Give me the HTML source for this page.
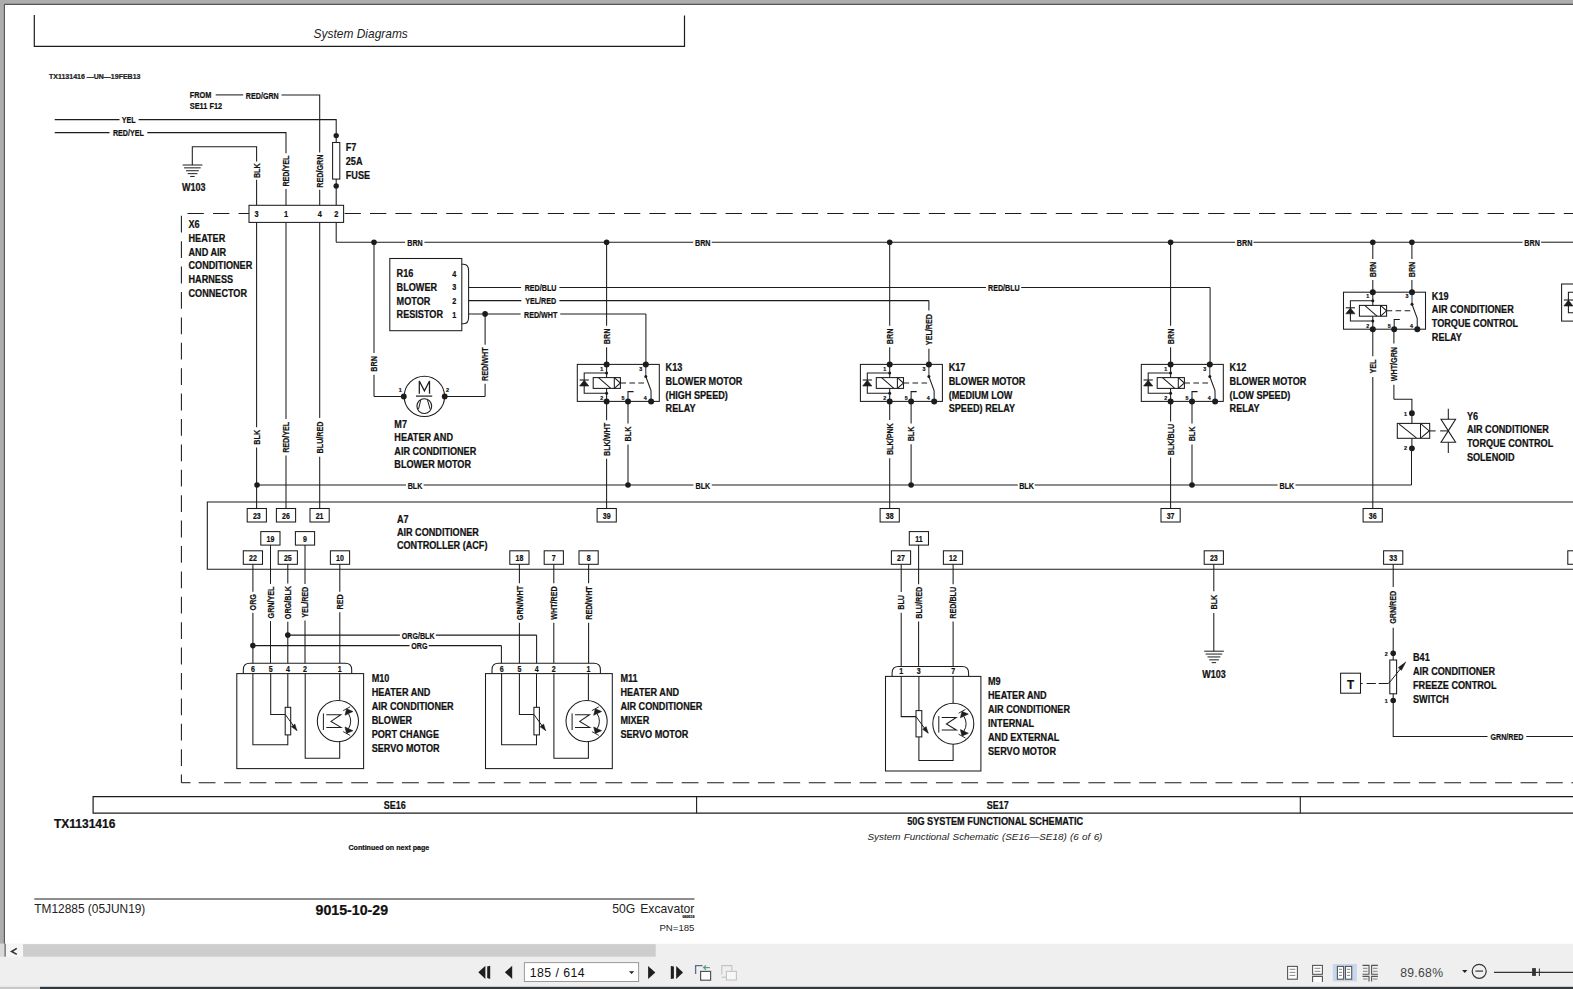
<!DOCTYPE html>
<html><head><meta charset="utf-8"><title>System Diagrams</title>
<style>
html,body{margin:0;padding:0;width:1573px;height:989px;overflow:hidden;background:#adadad;}
svg{position:absolute;left:0;top:0;display:block;}
text{font-family:"Liberation Sans",sans-serif;}
</style></head><body>
<svg width="1573" height="989" viewBox="0 0 1573 989" shape-rendering="geometricPrecision">
<rect x="0" y="0" width="1573" height="989" fill="#adadad"/>
<rect x="5" y="5" width="1568" height="939" fill="#ffffff"/>
<line x1="4.4" y1="4.4" x2="1573" y2="4.4" stroke="#555" stroke-width="1.1"/>
<line x1="4.4" y1="4.4" x2="4.4" y2="944" stroke="#555" stroke-width="1.1"/>
<polyline points="34.3,15 34.3,46.4 684.5,46.4 684.5,15.4" fill="none" stroke="#1c1c1c" stroke-width="1.2" stroke-linejoin="miter"/>
<text transform="translate(313.6,37.8) scale(1,1)" font-family="Liberation Sans" font-size="11.95" font-weight="normal" font-style="italic" text-anchor="start" fill="#222">System Diagrams</text>
<text transform="translate(49,79.2) scale(1,1)" font-family="Liberation Sans" font-size="7" font-weight="bold" font-style="normal" text-anchor="start" fill="#222" stroke="#222" stroke-width="0.22">TX1131416 —UN—19FEB13</text>
<text transform="translate(189.8,97.9) scale(0.8,1)" font-family="Liberation Sans" font-size="9.2" font-weight="bold" font-style="normal" text-anchor="start" fill="#111" stroke="#111" stroke-width="0.22">FROM</text>
<text transform="translate(189.8,108.9) scale(0.8,1)" font-family="Liberation Sans" font-size="9.2" font-weight="bold" font-style="normal" text-anchor="start" fill="#111" stroke="#111" stroke-width="0.22">SE11 F12</text>
<line x1="215.7" y1="94.9" x2="243.2" y2="94.9" stroke="#1c1c1c" stroke-width="1.05"/>
<text transform="translate(262.3,98.57) scale(0.73,1)" font-family="Liberation Sans" font-size="9.8" font-weight="bold" font-style="normal" text-anchor="middle" fill="#111" stroke="#111" stroke-width="0.22">RED/GRN</text>
<polyline points="281.5,94.9 319.7,94.9 319.7,152.5" fill="none" stroke="#1c1c1c" stroke-width="1.05" stroke-linejoin="miter"/>
<text transform="translate(322.98,171.1) rotate(-90) scale(0.8,1)" font-family="Liberation Sans" font-size="9" font-weight="bold" text-anchor="middle" fill="#111" stroke="#111" stroke-width="0.2">RED/GRN</text>
<line x1="319.7" y1="189.7" x2="319.7" y2="205.3" stroke="#1c1c1c" stroke-width="1.05"/>
<line x1="54.7" y1="119.6" x2="119.5" y2="119.6" stroke="#1c1c1c" stroke-width="1.05"/>
<text transform="translate(128.7,123.27) scale(0.73,1)" font-family="Liberation Sans" font-size="9.8" font-weight="bold" font-style="normal" text-anchor="middle" fill="#111" stroke="#111" stroke-width="0.22">YEL</text>
<polyline points="138.6,119.6 336.2,119.6 336.2,142.5" fill="none" stroke="#1c1c1c" stroke-width="1.05" stroke-linejoin="miter"/>
<circle cx="336.2" cy="135.6" r="2.7" fill="#1c1c1c"/>
<rect x="332.6" y="142.5" width="7.2" height="36.6" fill="none" stroke="#1c1c1c" stroke-width="1.05"/>
<line x1="336.2" y1="179.1" x2="336.2" y2="205.3" stroke="#1c1c1c" stroke-width="1.05"/>
<circle cx="336.2" cy="186" r="2.7" fill="#1c1c1c"/>
<text transform="translate(345.8,151.4) scale(0.86,1)" font-family="Liberation Sans" font-size="10.6" font-weight="bold" font-style="normal" text-anchor="start" fill="#111" stroke="#111" stroke-width="0.22">F7</text>
<text transform="translate(345.8,165.25) scale(0.86,1)" font-family="Liberation Sans" font-size="10.6" font-weight="bold" font-style="normal" text-anchor="start" fill="#111" stroke="#111" stroke-width="0.22">25A</text>
<text transform="translate(345.8,179.1) scale(0.86,1)" font-family="Liberation Sans" font-size="10.6" font-weight="bold" font-style="normal" text-anchor="start" fill="#111" stroke="#111" stroke-width="0.22">FUSE</text>
<line x1="54.7" y1="132.6" x2="109.5" y2="132.6" stroke="#1c1c1c" stroke-width="1.05"/>
<text transform="translate(128.4,136.27) scale(0.73,1)" font-family="Liberation Sans" font-size="9.8" font-weight="bold" font-style="normal" text-anchor="middle" fill="#111" stroke="#111" stroke-width="0.22">RED/YEL</text>
<polyline points="147.3,132.6 286,132.6 286,153.2" fill="none" stroke="#1c1c1c" stroke-width="1.05" stroke-linejoin="miter"/>
<text transform="translate(289.28,171.05) rotate(-90) scale(0.8,1)" font-family="Liberation Sans" font-size="9" font-weight="bold" text-anchor="middle" fill="#111" stroke="#111" stroke-width="0.2">RED/YEL</text>
<line x1="286" y1="188.9" x2="286" y2="205.3" stroke="#1c1c1c" stroke-width="1.05"/>
<polyline points="192.3,165 192.3,146.7 256.6,146.7 256.6,161.6" fill="none" stroke="#1c1c1c" stroke-width="1.05" stroke-linejoin="miter"/>
<text transform="translate(259.88,170.7) rotate(-90) scale(0.8,1)" font-family="Liberation Sans" font-size="9" font-weight="bold" text-anchor="middle" fill="#111" stroke="#111" stroke-width="0.2">BLK</text>
<line x1="256.6" y1="179.8" x2="256.6" y2="205.3" stroke="#1c1c1c" stroke-width="1.05"/>
<line x1="182.7" y1="165" x2="202.4" y2="165" stroke="#1c1c1c" stroke-width="1"/>
<line x1="184.1" y1="167.85" x2="200.7" y2="167.85" stroke="#1c1c1c" stroke-width="1"/>
<line x1="186" y1="170.75" x2="198.8" y2="170.75" stroke="#1c1c1c" stroke-width="1"/>
<line x1="187.7" y1="173.65" x2="197.4" y2="173.65" stroke="#1c1c1c" stroke-width="1"/>
<line x1="190.2" y1="176.45" x2="194.6" y2="176.45" stroke="#1c1c1c" stroke-width="1"/>
<text transform="translate(182,190.5) scale(0.88,1)" font-family="Liberation Sans" font-size="10.2" font-weight="bold" font-style="normal" text-anchor="start" fill="#111" stroke="#111" stroke-width="0.22">W103</text>
<rect x="249" y="205.3" width="94.6" height="17.1" fill="none" stroke="#1c1c1c" stroke-width="1.05"/>
<text transform="translate(256.6,217) scale(0.8,1)" font-family="Liberation Sans" font-size="9.2" font-weight="bold" font-style="normal" text-anchor="middle" fill="#111" stroke="#111" stroke-width="0.22">3</text>
<text transform="translate(286,217) scale(0.8,1)" font-family="Liberation Sans" font-size="9.2" font-weight="bold" font-style="normal" text-anchor="middle" fill="#111" stroke="#111" stroke-width="0.22">1</text>
<text transform="translate(319.7,217) scale(0.8,1)" font-family="Liberation Sans" font-size="9.2" font-weight="bold" font-style="normal" text-anchor="middle" fill="#111" stroke="#111" stroke-width="0.22">4</text>
<text transform="translate(336.2,217) scale(0.8,1)" font-family="Liberation Sans" font-size="9.2" font-weight="bold" font-style="normal" text-anchor="middle" fill="#111" stroke="#111" stroke-width="0.22">2</text>
<text transform="translate(188.5,228.3) scale(0.86,1)" font-family="Liberation Sans" font-size="10.6" font-weight="bold" font-style="normal" text-anchor="start" fill="#111" stroke="#111" stroke-width="0.22">X6</text>
<text transform="translate(188.5,241.94) scale(0.86,1)" font-family="Liberation Sans" font-size="10.6" font-weight="bold" font-style="normal" text-anchor="start" fill="#111" stroke="#111" stroke-width="0.22">HEATER</text>
<text transform="translate(188.5,255.58) scale(0.86,1)" font-family="Liberation Sans" font-size="10.6" font-weight="bold" font-style="normal" text-anchor="start" fill="#111" stroke="#111" stroke-width="0.22">AND AIR</text>
<text transform="translate(188.5,269.22) scale(0.86,1)" font-family="Liberation Sans" font-size="10.6" font-weight="bold" font-style="normal" text-anchor="start" fill="#111" stroke="#111" stroke-width="0.22">CONDITIONER</text>
<text transform="translate(188.5,282.86) scale(0.86,1)" font-family="Liberation Sans" font-size="10.6" font-weight="bold" font-style="normal" text-anchor="start" fill="#111" stroke="#111" stroke-width="0.22">HARNESS</text>
<text transform="translate(188.5,296.5) scale(0.86,1)" font-family="Liberation Sans" font-size="10.6" font-weight="bold" font-style="normal" text-anchor="start" fill="#111" stroke="#111" stroke-width="0.22">CONNECTOR</text>
<line x1="187.5" y1="213.4" x2="249" y2="213.4" stroke="#1c1c1c" stroke-width="1.05" stroke-dasharray="16.3 9.25"/>
<line x1="344.6" y1="213.4" x2="1573" y2="213.4" stroke="#1c1c1c" stroke-width="1.05" stroke-dasharray="16.3 9.1"/>
<line x1="181.4" y1="215.8" x2="181.4" y2="782.7" stroke="#1c1c1c" stroke-width="1.05" stroke-dasharray="16.8 8.6"/>
<line x1="181.4" y1="782.7" x2="190.5" y2="782.7" stroke="#1c1c1c" stroke-width="1.05"/>
<line x1="198.7" y1="782.7" x2="1573" y2="782.7" stroke="#1c1c1c" stroke-width="1.05" stroke-dasharray="16.8 8.62"/>
<line x1="336.2" y1="242.2" x2="405.1" y2="242.2" stroke="#1c1c1c" stroke-width="1.05"/>
<text transform="translate(415.05,245.87) scale(0.73,1)" font-family="Liberation Sans" font-size="9.8" font-weight="bold" font-style="normal" text-anchor="middle" fill="#111" stroke="#111" stroke-width="0.22">BRN</text>
<line x1="424.4" y1="242.2" x2="693.2" y2="242.2" stroke="#1c1c1c" stroke-width="1.05"/>
<text transform="translate(702.75,245.87) scale(0.73,1)" font-family="Liberation Sans" font-size="9.8" font-weight="bold" font-style="normal" text-anchor="middle" fill="#111" stroke="#111" stroke-width="0.22">BRN</text>
<line x1="711.7" y1="242.2" x2="1235.1" y2="242.2" stroke="#1c1c1c" stroke-width="1.05"/>
<text transform="translate(1244.6,245.87) scale(0.73,1)" font-family="Liberation Sans" font-size="9.8" font-weight="bold" font-style="normal" text-anchor="middle" fill="#111" stroke="#111" stroke-width="0.22">BRN</text>
<line x1="1253.5" y1="242.2" x2="1522.5" y2="242.2" stroke="#1c1c1c" stroke-width="1.05"/>
<text transform="translate(1532.1,245.87) scale(0.73,1)" font-family="Liberation Sans" font-size="9.8" font-weight="bold" font-style="normal" text-anchor="middle" fill="#111" stroke="#111" stroke-width="0.22">BRN</text>
<line x1="1541.1" y1="242.2" x2="1573" y2="242.2" stroke="#1c1c1c" stroke-width="1.05"/>
<line x1="336.2" y1="222.4" x2="336.2" y2="242.2" stroke="#1c1c1c" stroke-width="1.05"/>
<circle cx="374" cy="242.2" r="2.8" fill="#1c1c1c"/>
<circle cx="606.6" cy="242.2" r="2.8" fill="#1c1c1c"/>
<circle cx="889.7" cy="242.2" r="2.8" fill="#1c1c1c"/>
<circle cx="1170.6" cy="242.2" r="2.8" fill="#1c1c1c"/>
<circle cx="1372.8" cy="242.2" r="2.8" fill="#1c1c1c"/>
<circle cx="1411.9" cy="242.2" r="2.8" fill="#1c1c1c"/>
<line x1="374" y1="242.2" x2="374" y2="353.1" stroke="#1c1c1c" stroke-width="1.05"/>
<text transform="translate(377.28,363.9) rotate(-90) scale(0.8,1)" font-family="Liberation Sans" font-size="9" font-weight="bold" text-anchor="middle" fill="#111" stroke="#111" stroke-width="0.2">BRN</text>
<line x1="374" y1="374.7" x2="374" y2="396.5" stroke="#1c1c1c" stroke-width="1.05"/>
<line x1="374" y1="396.5" x2="403.8" y2="396.5" stroke="#1c1c1c" stroke-width="1.05"/>
<rect x="389.8" y="258.5" width="72" height="72.2" fill="none" stroke="#1c1c1c" stroke-width="1.05"/>
<text transform="translate(396.6,277.3) scale(0.86,1)" font-family="Liberation Sans" font-size="10.6" font-weight="bold" font-style="normal" text-anchor="start" fill="#111" stroke="#111" stroke-width="0.22">R16</text>
<text transform="translate(396.6,291.03) scale(0.86,1)" font-family="Liberation Sans" font-size="10.6" font-weight="bold" font-style="normal" text-anchor="start" fill="#111" stroke="#111" stroke-width="0.22">BLOWER</text>
<text transform="translate(396.6,304.76) scale(0.86,1)" font-family="Liberation Sans" font-size="10.6" font-weight="bold" font-style="normal" text-anchor="start" fill="#111" stroke="#111" stroke-width="0.22">MOTOR</text>
<text transform="translate(396.6,318.49) scale(0.86,1)" font-family="Liberation Sans" font-size="10.6" font-weight="bold" font-style="normal" text-anchor="start" fill="#111" stroke="#111" stroke-width="0.22">RESISTOR</text>
<text transform="translate(454.3,276.5) scale(0.88,1)" font-family="Liberation Sans" font-size="8.2" font-weight="bold" font-style="normal" text-anchor="middle" fill="#111" stroke="#111" stroke-width="0.22">4</text>
<text transform="translate(454.3,290.23) scale(0.88,1)" font-family="Liberation Sans" font-size="8.2" font-weight="bold" font-style="normal" text-anchor="middle" fill="#111" stroke="#111" stroke-width="0.22">3</text>
<text transform="translate(454.3,303.96) scale(0.88,1)" font-family="Liberation Sans" font-size="8.2" font-weight="bold" font-style="normal" text-anchor="middle" fill="#111" stroke="#111" stroke-width="0.22">2</text>
<text transform="translate(454.3,317.69) scale(0.88,1)" font-family="Liberation Sans" font-size="8.2" font-weight="bold" font-style="normal" text-anchor="middle" fill="#111" stroke="#111" stroke-width="0.22">1</text>
<path d="M461.8,264.3 L463.6,264.3 Q468.6,264.3 468.6,271 L468.6,317.3 Q468.6,323.8 463.6,323.8 L461.8,323.8" fill="none" stroke="#1c1c1c" stroke-width="1.05"/>
<line x1="468.6" y1="287.5" x2="521.1" y2="287.5" stroke="#1c1c1c" stroke-width="1.05"/>
<text transform="translate(540.55,291.17) scale(0.73,1)" font-family="Liberation Sans" font-size="9.8" font-weight="bold" font-style="normal" text-anchor="middle" fill="#111" stroke="#111" stroke-width="0.22">RED/BLU</text>
<line x1="559.4" y1="287.5" x2="985.9" y2="287.5" stroke="#1c1c1c" stroke-width="1.05"/>
<text transform="translate(1003.85,291.17) scale(0.73,1)" font-family="Liberation Sans" font-size="9.8" font-weight="bold" font-style="normal" text-anchor="middle" fill="#111" stroke="#111" stroke-width="0.22">RED/BLU</text>
<line x1="1021.2" y1="287.5" x2="1210.1" y2="287.5" stroke="#1c1c1c" stroke-width="1.05"/>
<line x1="1210.1" y1="287.5" x2="1210.1" y2="364.4" stroke="#1c1c1c" stroke-width="1.05"/>
<line x1="468.6" y1="300.6" x2="521.4" y2="300.6" stroke="#1c1c1c" stroke-width="1.05"/>
<text transform="translate(540.7,304.27) scale(0.73,1)" font-family="Liberation Sans" font-size="9.8" font-weight="bold" font-style="normal" text-anchor="middle" fill="#111" stroke="#111" stroke-width="0.22">YEL/RED</text>
<line x1="559.4" y1="300.6" x2="928.9" y2="300.6" stroke="#1c1c1c" stroke-width="1.05"/>
<line x1="928.9" y1="300.6" x2="928.9" y2="310.4" stroke="#1c1c1c" stroke-width="1.05"/>
<text transform="translate(932.18,329.6) rotate(-90) scale(0.8,1)" font-family="Liberation Sans" font-size="9" font-weight="bold" text-anchor="middle" fill="#111" stroke="#111" stroke-width="0.2">YEL/RED</text>
<line x1="928.9" y1="348.8" x2="928.9" y2="364.4" stroke="#1c1c1c" stroke-width="1.05"/>
<line x1="468.6" y1="313.9" x2="520.6" y2="313.9" stroke="#1c1c1c" stroke-width="1.05"/>
<text transform="translate(540.7,317.57) scale(0.73,1)" font-family="Liberation Sans" font-size="9.8" font-weight="bold" font-style="normal" text-anchor="middle" fill="#111" stroke="#111" stroke-width="0.22">RED/WHT</text>
<line x1="560.2" y1="313.9" x2="645.9" y2="313.9" stroke="#1c1c1c" stroke-width="1.05"/>
<line x1="645.9" y1="313.9" x2="645.9" y2="364.4" stroke="#1c1c1c" stroke-width="1.05"/>
<circle cx="485.1" cy="313.9" r="2.8" fill="#1c1c1c"/>
<line x1="485.1" y1="313.9" x2="485.1" y2="344.7" stroke="#1c1c1c" stroke-width="1.05"/>
<text transform="translate(488.38,364.2) rotate(-90) scale(0.8,1)" font-family="Liberation Sans" font-size="9" font-weight="bold" text-anchor="middle" fill="#111" stroke="#111" stroke-width="0.2">RED/WHT</text>
<line x1="485.1" y1="383.7" x2="485.1" y2="396.5" stroke="#1c1c1c" stroke-width="1.05"/>
<line x1="485.1" y1="396.5" x2="444.7" y2="396.5" stroke="#1c1c1c" stroke-width="1.05"/>
<circle cx="424.4" cy="396.4" r="20.2" fill="none" stroke="#1c1c1c" stroke-width="1.05"/>
<circle cx="403.8" cy="396.5" r="2.9" fill="#1c1c1c"/>
<circle cx="444.7" cy="396.5" r="2.9" fill="#1c1c1c"/>
<text transform="translate(400.2,391.9) scale(0.88,1)" font-family="Liberation Sans" font-size="6.2" font-weight="bold" font-style="normal" text-anchor="middle" fill="#111" stroke="#111" stroke-width="0.22">1</text>
<text transform="translate(447.6,391.9) scale(0.88,1)" font-family="Liberation Sans" font-size="6.2" font-weight="bold" font-style="normal" text-anchor="middle" fill="#111" stroke="#111" stroke-width="0.22">2</text>
<path d="M419.3,393.8 L419.3,381 L424.4,390.8 L429.5,381 L429.5,393.8" fill="none" stroke="#1c1c1c" stroke-width="1.25"/>
<line x1="416" y1="396.1" x2="432.2" y2="396.1" stroke="#1c1c1c" stroke-width="1.2"/>
<circle cx="424.3" cy="406.1" r="7.4" fill="none" stroke="#1c1c1c" stroke-width="1.1"/>
<line x1="420.7" y1="400.1" x2="418.5" y2="409.2" stroke="#1c1c1c" stroke-width="1"/>
<line x1="427.5" y1="400.1" x2="430.2" y2="409.4" stroke="#1c1c1c" stroke-width="1"/>
<text transform="translate(394.3,427.5) scale(0.86,1)" font-family="Liberation Sans" font-size="10.6" font-weight="bold" font-style="normal" text-anchor="start" fill="#111" stroke="#111" stroke-width="0.22">M7</text>
<text transform="translate(394.3,441.07) scale(0.86,1)" font-family="Liberation Sans" font-size="10.6" font-weight="bold" font-style="normal" text-anchor="start" fill="#111" stroke="#111" stroke-width="0.22">HEATER AND</text>
<text transform="translate(394.3,454.64) scale(0.86,1)" font-family="Liberation Sans" font-size="10.6" font-weight="bold" font-style="normal" text-anchor="start" fill="#111" stroke="#111" stroke-width="0.22">AIR CONDITIONER</text>
<text transform="translate(394.3,468.21) scale(0.86,1)" font-family="Liberation Sans" font-size="10.6" font-weight="bold" font-style="normal" text-anchor="start" fill="#111" stroke="#111" stroke-width="0.22">BLOWER MOTOR</text>
<rect x="577.3" y="364.4" width="82" height="37" fill="none" stroke="#1c1c1c" stroke-width="1.05"/>
<line x1="606.6" y1="364.4" x2="606.6" y2="377.6" stroke="#1c1c1c" stroke-width="1.05"/>
<line x1="606.6" y1="388.5" x2="606.6" y2="401.4" stroke="#1c1c1c" stroke-width="1.05"/>
<circle cx="606.6" cy="372.9" r="1.5" fill="#1c1c1c"/>
<circle cx="606.6" cy="393.2" r="1.5" fill="#1c1c1c"/>
<rect x="593.2" y="377.6" width="27.2" height="10.8" fill="none" stroke="#1c1c1c" stroke-width="1.05"/>
<line x1="614.3" y1="377.6" x2="614.3" y2="388.4" stroke="#1c1c1c" stroke-width="1.05"/>
<line x1="598.5" y1="377.6" x2="610.8" y2="388.4" stroke="#1c1c1c" stroke-width="1.05"/>
<polyline points="614.3,377.6 620.4,383 614.3,388.4" fill="none" stroke="#1c1c1c" stroke-width="1.05" stroke-linejoin="miter"/>
<polyline points="606.6,372.9 584.2,372.9 584.2,393.2 606.6,393.2" fill="none" stroke="#1c1c1c" stroke-width="1.05" stroke-linejoin="miter"/>
<polygon points="579.6,386 588.8,386 584.2,380.2" fill="#1c1c1c" stroke="#1c1c1c" stroke-width="0.6" stroke-linejoin="miter"/>
<line x1="579.6" y1="380" x2="588.8" y2="380" stroke="#1c1c1c" stroke-width="1.1"/>
<line x1="620.4" y1="383" x2="646" y2="383" stroke="#1c1c1c" stroke-width="1.05" stroke-dasharray="5.6 3.4"/>
<line x1="645.8" y1="364.4" x2="645.8" y2="376.5" stroke="#1c1c1c" stroke-width="0.9"/>
<circle cx="645.8" cy="376.5" r="1.5" fill="#1c1c1c"/>
<polyline points="645.8,376.5 651,390.5 651.1,401.4" fill="none" stroke="#1c1c1c" stroke-width="1.05" stroke-linejoin="miter"/>
<polyline points="628,401.4 628,391.6 633.6,391.6" fill="none" stroke="#1c1c1c" stroke-width="1.05" stroke-linejoin="miter"/>
<circle cx="606.6" cy="364.4" r="3" fill="#1c1c1c"/>
<circle cx="645.8" cy="364.4" r="3" fill="#1c1c1c"/>
<circle cx="606.6" cy="401.4" r="3" fill="#1c1c1c"/>
<circle cx="628" cy="401.4" r="3" fill="#1c1c1c"/>
<circle cx="651.1" cy="401.4" r="3" fill="#1c1c1c"/>
<text transform="translate(601.6,370.6) scale(0.88,1)" font-family="Liberation Sans" font-size="6" font-weight="bold" font-style="normal" text-anchor="middle" fill="#111" stroke="#111" stroke-width="0.22">1</text>
<text transform="translate(640.8,370.6) scale(0.88,1)" font-family="Liberation Sans" font-size="6" font-weight="bold" font-style="normal" text-anchor="middle" fill="#111" stroke="#111" stroke-width="0.22">3</text>
<text transform="translate(601.6,399.9) scale(0.88,1)" font-family="Liberation Sans" font-size="6" font-weight="bold" font-style="normal" text-anchor="middle" fill="#111" stroke="#111" stroke-width="0.22">2</text>
<text transform="translate(623,399.9) scale(0.88,1)" font-family="Liberation Sans" font-size="6" font-weight="bold" font-style="normal" text-anchor="middle" fill="#111" stroke="#111" stroke-width="0.22">5</text>
<text transform="translate(645.2,399.9) scale(0.88,1)" font-family="Liberation Sans" font-size="6" font-weight="bold" font-style="normal" text-anchor="middle" fill="#111" stroke="#111" stroke-width="0.22">4</text>
<text transform="translate(665.6,371.1) scale(0.86,1)" font-family="Liberation Sans" font-size="10.6" font-weight="bold" font-style="normal" text-anchor="start" fill="#111" stroke="#111" stroke-width="0.22">K13</text>
<text transform="translate(665.6,384.9) scale(0.86,1)" font-family="Liberation Sans" font-size="10.6" font-weight="bold" font-style="normal" text-anchor="start" fill="#111" stroke="#111" stroke-width="0.22">BLOWER MOTOR</text>
<text transform="translate(665.6,398.6) scale(0.86,1)" font-family="Liberation Sans" font-size="10.6" font-weight="bold" font-style="normal" text-anchor="start" fill="#111" stroke="#111" stroke-width="0.22">(HIGH SPEED)</text>
<text transform="translate(665.6,411.8) scale(0.86,1)" font-family="Liberation Sans" font-size="10.6" font-weight="bold" font-style="normal" text-anchor="start" fill="#111" stroke="#111" stroke-width="0.22">RELAY</text>
<rect x="860.4" y="364.4" width="82" height="37" fill="none" stroke="#1c1c1c" stroke-width="1.05"/>
<line x1="889.7" y1="364.4" x2="889.7" y2="377.6" stroke="#1c1c1c" stroke-width="1.05"/>
<line x1="889.7" y1="388.5" x2="889.7" y2="401.4" stroke="#1c1c1c" stroke-width="1.05"/>
<circle cx="889.7" cy="372.9" r="1.5" fill="#1c1c1c"/>
<circle cx="889.7" cy="393.2" r="1.5" fill="#1c1c1c"/>
<rect x="876.3" y="377.6" width="27.2" height="10.8" fill="none" stroke="#1c1c1c" stroke-width="1.05"/>
<line x1="897.4" y1="377.6" x2="897.4" y2="388.4" stroke="#1c1c1c" stroke-width="1.05"/>
<line x1="881.6" y1="377.6" x2="893.9" y2="388.4" stroke="#1c1c1c" stroke-width="1.05"/>
<polyline points="897.4,377.6 903.5,383 897.4,388.4" fill="none" stroke="#1c1c1c" stroke-width="1.05" stroke-linejoin="miter"/>
<polyline points="889.7,372.9 867.3,372.9 867.3,393.2 889.7,393.2" fill="none" stroke="#1c1c1c" stroke-width="1.05" stroke-linejoin="miter"/>
<polygon points="862.7,386 871.9,386 867.3,380.2" fill="#1c1c1c" stroke="#1c1c1c" stroke-width="0.6" stroke-linejoin="miter"/>
<line x1="862.7" y1="380" x2="871.9" y2="380" stroke="#1c1c1c" stroke-width="1.1"/>
<line x1="903.5" y1="383" x2="929.1" y2="383" stroke="#1c1c1c" stroke-width="1.05" stroke-dasharray="5.6 3.4"/>
<line x1="928.9" y1="364.4" x2="928.9" y2="376.5" stroke="#1c1c1c" stroke-width="0.9"/>
<circle cx="928.9" cy="376.5" r="1.5" fill="#1c1c1c"/>
<polyline points="928.9,376.5 934.1,390.5 934.2,401.4" fill="none" stroke="#1c1c1c" stroke-width="1.05" stroke-linejoin="miter"/>
<polyline points="911.1,401.4 911.1,391.6 916.7,391.6" fill="none" stroke="#1c1c1c" stroke-width="1.05" stroke-linejoin="miter"/>
<circle cx="889.7" cy="364.4" r="3" fill="#1c1c1c"/>
<circle cx="928.9" cy="364.4" r="3" fill="#1c1c1c"/>
<circle cx="889.7" cy="401.4" r="3" fill="#1c1c1c"/>
<circle cx="911.1" cy="401.4" r="3" fill="#1c1c1c"/>
<circle cx="934.2" cy="401.4" r="3" fill="#1c1c1c"/>
<text transform="translate(884.7,370.6) scale(0.88,1)" font-family="Liberation Sans" font-size="6" font-weight="bold" font-style="normal" text-anchor="middle" fill="#111" stroke="#111" stroke-width="0.22">1</text>
<text transform="translate(923.9,370.6) scale(0.88,1)" font-family="Liberation Sans" font-size="6" font-weight="bold" font-style="normal" text-anchor="middle" fill="#111" stroke="#111" stroke-width="0.22">3</text>
<text transform="translate(884.7,399.9) scale(0.88,1)" font-family="Liberation Sans" font-size="6" font-weight="bold" font-style="normal" text-anchor="middle" fill="#111" stroke="#111" stroke-width="0.22">2</text>
<text transform="translate(906.1,399.9) scale(0.88,1)" font-family="Liberation Sans" font-size="6" font-weight="bold" font-style="normal" text-anchor="middle" fill="#111" stroke="#111" stroke-width="0.22">5</text>
<text transform="translate(928.3,399.9) scale(0.88,1)" font-family="Liberation Sans" font-size="6" font-weight="bold" font-style="normal" text-anchor="middle" fill="#111" stroke="#111" stroke-width="0.22">4</text>
<text transform="translate(948.7,371.1) scale(0.86,1)" font-family="Liberation Sans" font-size="10.6" font-weight="bold" font-style="normal" text-anchor="start" fill="#111" stroke="#111" stroke-width="0.22">K17</text>
<text transform="translate(948.7,384.9) scale(0.86,1)" font-family="Liberation Sans" font-size="10.6" font-weight="bold" font-style="normal" text-anchor="start" fill="#111" stroke="#111" stroke-width="0.22">BLOWER MOTOR</text>
<text transform="translate(948.7,398.6) scale(0.86,1)" font-family="Liberation Sans" font-size="10.6" font-weight="bold" font-style="normal" text-anchor="start" fill="#111" stroke="#111" stroke-width="0.22">(MEDIUM LOW</text>
<text transform="translate(948.7,411.8) scale(0.86,1)" font-family="Liberation Sans" font-size="10.6" font-weight="bold" font-style="normal" text-anchor="start" fill="#111" stroke="#111" stroke-width="0.22">SPEED) RELAY</text>
<rect x="1141.3" y="364.4" width="82" height="37" fill="none" stroke="#1c1c1c" stroke-width="1.05"/>
<line x1="1170.6" y1="364.4" x2="1170.6" y2="377.6" stroke="#1c1c1c" stroke-width="1.05"/>
<line x1="1170.6" y1="388.5" x2="1170.6" y2="401.4" stroke="#1c1c1c" stroke-width="1.05"/>
<circle cx="1170.6" cy="372.9" r="1.5" fill="#1c1c1c"/>
<circle cx="1170.6" cy="393.2" r="1.5" fill="#1c1c1c"/>
<rect x="1157.2" y="377.6" width="27.2" height="10.8" fill="none" stroke="#1c1c1c" stroke-width="1.05"/>
<line x1="1178.3" y1="377.6" x2="1178.3" y2="388.4" stroke="#1c1c1c" stroke-width="1.05"/>
<line x1="1162.5" y1="377.6" x2="1174.8" y2="388.4" stroke="#1c1c1c" stroke-width="1.05"/>
<polyline points="1178.3,377.6 1184.4,383 1178.3,388.4" fill="none" stroke="#1c1c1c" stroke-width="1.05" stroke-linejoin="miter"/>
<polyline points="1170.6,372.9 1148.2,372.9 1148.2,393.2 1170.6,393.2" fill="none" stroke="#1c1c1c" stroke-width="1.05" stroke-linejoin="miter"/>
<polygon points="1143.6,386 1152.8,386 1148.2,380.2" fill="#1c1c1c" stroke="#1c1c1c" stroke-width="0.6" stroke-linejoin="miter"/>
<line x1="1143.6" y1="380" x2="1152.8" y2="380" stroke="#1c1c1c" stroke-width="1.1"/>
<line x1="1184.4" y1="383" x2="1210" y2="383" stroke="#1c1c1c" stroke-width="1.05" stroke-dasharray="5.6 3.4"/>
<line x1="1209.8" y1="364.4" x2="1209.8" y2="376.5" stroke="#1c1c1c" stroke-width="0.9"/>
<circle cx="1209.8" cy="376.5" r="1.5" fill="#1c1c1c"/>
<polyline points="1209.8,376.5 1215,390.5 1215.1,401.4" fill="none" stroke="#1c1c1c" stroke-width="1.05" stroke-linejoin="miter"/>
<polyline points="1192,401.4 1192,391.6 1197.6,391.6" fill="none" stroke="#1c1c1c" stroke-width="1.05" stroke-linejoin="miter"/>
<circle cx="1170.6" cy="364.4" r="3" fill="#1c1c1c"/>
<circle cx="1209.8" cy="364.4" r="3" fill="#1c1c1c"/>
<circle cx="1170.6" cy="401.4" r="3" fill="#1c1c1c"/>
<circle cx="1192" cy="401.4" r="3" fill="#1c1c1c"/>
<circle cx="1215.1" cy="401.4" r="3" fill="#1c1c1c"/>
<text transform="translate(1165.6,370.6) scale(0.88,1)" font-family="Liberation Sans" font-size="6" font-weight="bold" font-style="normal" text-anchor="middle" fill="#111" stroke="#111" stroke-width="0.22">1</text>
<text transform="translate(1204.8,370.6) scale(0.88,1)" font-family="Liberation Sans" font-size="6" font-weight="bold" font-style="normal" text-anchor="middle" fill="#111" stroke="#111" stroke-width="0.22">3</text>
<text transform="translate(1165.6,399.9) scale(0.88,1)" font-family="Liberation Sans" font-size="6" font-weight="bold" font-style="normal" text-anchor="middle" fill="#111" stroke="#111" stroke-width="0.22">2</text>
<text transform="translate(1187,399.9) scale(0.88,1)" font-family="Liberation Sans" font-size="6" font-weight="bold" font-style="normal" text-anchor="middle" fill="#111" stroke="#111" stroke-width="0.22">5</text>
<text transform="translate(1209.2,399.9) scale(0.88,1)" font-family="Liberation Sans" font-size="6" font-weight="bold" font-style="normal" text-anchor="middle" fill="#111" stroke="#111" stroke-width="0.22">4</text>
<text transform="translate(1229.6,371.1) scale(0.86,1)" font-family="Liberation Sans" font-size="10.6" font-weight="bold" font-style="normal" text-anchor="start" fill="#111" stroke="#111" stroke-width="0.22">K12</text>
<text transform="translate(1229.6,384.9) scale(0.86,1)" font-family="Liberation Sans" font-size="10.6" font-weight="bold" font-style="normal" text-anchor="start" fill="#111" stroke="#111" stroke-width="0.22">BLOWER MOTOR</text>
<text transform="translate(1229.6,398.6) scale(0.86,1)" font-family="Liberation Sans" font-size="10.6" font-weight="bold" font-style="normal" text-anchor="start" fill="#111" stroke="#111" stroke-width="0.22">(LOW SPEED)</text>
<text transform="translate(1229.6,411.8) scale(0.86,1)" font-family="Liberation Sans" font-size="10.6" font-weight="bold" font-style="normal" text-anchor="start" fill="#111" stroke="#111" stroke-width="0.22">RELAY</text>
<rect x="1343.5" y="292.2" width="82" height="37" fill="none" stroke="#1c1c1c" stroke-width="1.05"/>
<line x1="1372.8" y1="292.2" x2="1372.8" y2="305.4" stroke="#1c1c1c" stroke-width="1.05"/>
<line x1="1372.8" y1="316.3" x2="1372.8" y2="329.2" stroke="#1c1c1c" stroke-width="1.05"/>
<circle cx="1372.8" cy="300.7" r="1.5" fill="#1c1c1c"/>
<circle cx="1372.8" cy="321" r="1.5" fill="#1c1c1c"/>
<rect x="1359.4" y="305.4" width="27.2" height="10.8" fill="none" stroke="#1c1c1c" stroke-width="1.05"/>
<line x1="1380.5" y1="305.4" x2="1380.5" y2="316.2" stroke="#1c1c1c" stroke-width="1.05"/>
<line x1="1364.7" y1="305.4" x2="1377" y2="316.2" stroke="#1c1c1c" stroke-width="1.05"/>
<polyline points="1380.5,305.4 1386.6,310.8 1380.5,316.2" fill="none" stroke="#1c1c1c" stroke-width="1.05" stroke-linejoin="miter"/>
<polyline points="1372.8,300.7 1350.4,300.7 1350.4,321 1372.8,321" fill="none" stroke="#1c1c1c" stroke-width="1.05" stroke-linejoin="miter"/>
<polygon points="1345.8,313.8 1355,313.8 1350.4,308" fill="#1c1c1c" stroke="#1c1c1c" stroke-width="0.6" stroke-linejoin="miter"/>
<line x1="1345.8" y1="307.8" x2="1355" y2="307.8" stroke="#1c1c1c" stroke-width="1.1"/>
<line x1="1386.6" y1="310.8" x2="1412.2" y2="310.8" stroke="#1c1c1c" stroke-width="1.05" stroke-dasharray="5.6 3.4"/>
<line x1="1412" y1="292.2" x2="1412" y2="304.3" stroke="#1c1c1c" stroke-width="0.9"/>
<circle cx="1412" cy="304.3" r="1.5" fill="#1c1c1c"/>
<polyline points="1412,304.3 1417.2,318.3 1417.3,329.2" fill="none" stroke="#1c1c1c" stroke-width="1.05" stroke-linejoin="miter"/>
<polyline points="1394.2,329.2 1394.2,319.4 1399.8,319.4" fill="none" stroke="#1c1c1c" stroke-width="1.05" stroke-linejoin="miter"/>
<circle cx="1372.8" cy="292.2" r="3" fill="#1c1c1c"/>
<circle cx="1412" cy="292.2" r="3" fill="#1c1c1c"/>
<circle cx="1372.8" cy="329.2" r="3" fill="#1c1c1c"/>
<circle cx="1394.2" cy="329.2" r="3" fill="#1c1c1c"/>
<circle cx="1417.3" cy="329.2" r="3" fill="#1c1c1c"/>
<text transform="translate(1367.8,298.4) scale(0.88,1)" font-family="Liberation Sans" font-size="6" font-weight="bold" font-style="normal" text-anchor="middle" fill="#111" stroke="#111" stroke-width="0.22">1</text>
<text transform="translate(1407,298.4) scale(0.88,1)" font-family="Liberation Sans" font-size="6" font-weight="bold" font-style="normal" text-anchor="middle" fill="#111" stroke="#111" stroke-width="0.22">3</text>
<text transform="translate(1367.8,327.7) scale(0.88,1)" font-family="Liberation Sans" font-size="6" font-weight="bold" font-style="normal" text-anchor="middle" fill="#111" stroke="#111" stroke-width="0.22">2</text>
<text transform="translate(1389.2,327.7) scale(0.88,1)" font-family="Liberation Sans" font-size="6" font-weight="bold" font-style="normal" text-anchor="middle" fill="#111" stroke="#111" stroke-width="0.22">5</text>
<text transform="translate(1411.4,327.7) scale(0.88,1)" font-family="Liberation Sans" font-size="6" font-weight="bold" font-style="normal" text-anchor="middle" fill="#111" stroke="#111" stroke-width="0.22">4</text>
<text transform="translate(1431.8,299.7) scale(0.86,1)" font-family="Liberation Sans" font-size="10.6" font-weight="bold" font-style="normal" text-anchor="start" fill="#111" stroke="#111" stroke-width="0.22">K19</text>
<text transform="translate(1431.8,313.3) scale(0.86,1)" font-family="Liberation Sans" font-size="10.6" font-weight="bold" font-style="normal" text-anchor="start" fill="#111" stroke="#111" stroke-width="0.22">AIR CONDITIONER</text>
<text transform="translate(1431.8,327.1) scale(0.86,1)" font-family="Liberation Sans" font-size="10.6" font-weight="bold" font-style="normal" text-anchor="start" fill="#111" stroke="#111" stroke-width="0.22">TORQUE CONTROL</text>
<text transform="translate(1431.8,340.8) scale(0.86,1)" font-family="Liberation Sans" font-size="10.6" font-weight="bold" font-style="normal" text-anchor="start" fill="#111" stroke="#111" stroke-width="0.22">RELAY</text>
<line x1="606.6" y1="242.2" x2="606.6" y2="325.7" stroke="#1c1c1c" stroke-width="1.05"/>
<text transform="translate(609.88,336.45) rotate(-90) scale(0.8,1)" font-family="Liberation Sans" font-size="9" font-weight="bold" text-anchor="middle" fill="#111" stroke="#111" stroke-width="0.2">BRN</text>
<line x1="606.6" y1="347.2" x2="606.6" y2="364.4" stroke="#1c1c1c" stroke-width="1.05"/>
<line x1="889.7" y1="242.2" x2="889.7" y2="325.7" stroke="#1c1c1c" stroke-width="1.05"/>
<text transform="translate(892.98,336.45) rotate(-90) scale(0.8,1)" font-family="Liberation Sans" font-size="9" font-weight="bold" text-anchor="middle" fill="#111" stroke="#111" stroke-width="0.2">BRN</text>
<line x1="889.7" y1="347.2" x2="889.7" y2="364.4" stroke="#1c1c1c" stroke-width="1.05"/>
<line x1="1170.6" y1="242.2" x2="1170.6" y2="325.7" stroke="#1c1c1c" stroke-width="1.05"/>
<text transform="translate(1173.88,336.45) rotate(-90) scale(0.8,1)" font-family="Liberation Sans" font-size="9" font-weight="bold" text-anchor="middle" fill="#111" stroke="#111" stroke-width="0.2">BRN</text>
<line x1="1170.6" y1="347.2" x2="1170.6" y2="364.4" stroke="#1c1c1c" stroke-width="1.05"/>
<line x1="1372.8" y1="242.2" x2="1372.8" y2="259" stroke="#1c1c1c" stroke-width="1.05"/>
<text transform="translate(1376.08,269.5) rotate(-90) scale(0.8,1)" font-family="Liberation Sans" font-size="9" font-weight="bold" text-anchor="middle" fill="#111" stroke="#111" stroke-width="0.2">BRN</text>
<line x1="1372.8" y1="280" x2="1372.8" y2="292.2" stroke="#1c1c1c" stroke-width="1.05"/>
<line x1="1411.9" y1="242.2" x2="1411.9" y2="259" stroke="#1c1c1c" stroke-width="1.05"/>
<text transform="translate(1415.18,269.5) rotate(-90) scale(0.8,1)" font-family="Liberation Sans" font-size="9" font-weight="bold" text-anchor="middle" fill="#111" stroke="#111" stroke-width="0.2">BRN</text>
<line x1="1411.9" y1="280" x2="1411.9" y2="292.2" stroke="#1c1c1c" stroke-width="1.05"/>
<line x1="606.6" y1="401.4" x2="606.6" y2="420.2" stroke="#1c1c1c" stroke-width="1.05"/>
<text transform="translate(609.88,439.45) rotate(-90) scale(0.8,1)" font-family="Liberation Sans" font-size="9" font-weight="bold" text-anchor="middle" fill="#111" stroke="#111" stroke-width="0.2">BLK/WHT</text>
<line x1="606.6" y1="458.7" x2="606.6" y2="508.5" stroke="#1c1c1c" stroke-width="1.05"/>
<line x1="628" y1="401.4" x2="628" y2="423.5" stroke="#1c1c1c" stroke-width="1.05"/>
<text transform="translate(631.28,434.05) rotate(-90) scale(0.8,1)" font-family="Liberation Sans" font-size="9" font-weight="bold" text-anchor="middle" fill="#111" stroke="#111" stroke-width="0.2">BLK</text>
<line x1="628" y1="444.6" x2="628" y2="485" stroke="#1c1c1c" stroke-width="1.05"/>
<line x1="889.7" y1="401.4" x2="889.7" y2="420" stroke="#1c1c1c" stroke-width="1.05"/>
<text transform="translate(892.98,439.15) rotate(-90) scale(0.8,1)" font-family="Liberation Sans" font-size="9" font-weight="bold" text-anchor="middle" fill="#111" stroke="#111" stroke-width="0.2">BLK/PNK</text>
<line x1="889.7" y1="458.3" x2="889.7" y2="508.5" stroke="#1c1c1c" stroke-width="1.05"/>
<line x1="911.1" y1="401.4" x2="911.1" y2="423.6" stroke="#1c1c1c" stroke-width="1.05"/>
<text transform="translate(914.38,433.95) rotate(-90) scale(0.8,1)" font-family="Liberation Sans" font-size="9" font-weight="bold" text-anchor="middle" fill="#111" stroke="#111" stroke-width="0.2">BLK</text>
<line x1="911.1" y1="444.3" x2="911.1" y2="485" stroke="#1c1c1c" stroke-width="1.05"/>
<line x1="1170.6" y1="401.4" x2="1170.6" y2="421.4" stroke="#1c1c1c" stroke-width="1.05"/>
<text transform="translate(1173.88,439.45) rotate(-90) scale(0.8,1)" font-family="Liberation Sans" font-size="9" font-weight="bold" text-anchor="middle" fill="#111" stroke="#111" stroke-width="0.2">BLK/BLU</text>
<line x1="1170.6" y1="457.5" x2="1170.6" y2="508.5" stroke="#1c1c1c" stroke-width="1.05"/>
<line x1="1192" y1="401.4" x2="1192" y2="423.6" stroke="#1c1c1c" stroke-width="1.05"/>
<text transform="translate(1195.28,434) rotate(-90) scale(0.8,1)" font-family="Liberation Sans" font-size="9" font-weight="bold" text-anchor="middle" fill="#111" stroke="#111" stroke-width="0.2">BLK</text>
<line x1="1192" y1="444.4" x2="1192" y2="485" stroke="#1c1c1c" stroke-width="1.05"/>
<line x1="1372.8" y1="329.2" x2="1372.8" y2="356.3" stroke="#1c1c1c" stroke-width="1.05"/>
<text transform="translate(1376.08,366.6) rotate(-90) scale(0.8,1)" font-family="Liberation Sans" font-size="9" font-weight="bold" text-anchor="middle" fill="#111" stroke="#111" stroke-width="0.2">YEL</text>
<line x1="1372.8" y1="376.9" x2="1372.8" y2="508.5" stroke="#1c1c1c" stroke-width="1.05"/>
<line x1="1393.9" y1="329.2" x2="1393.9" y2="343.6" stroke="#1c1c1c" stroke-width="1.05"/>
<text transform="translate(1397.18,364.15) rotate(-90) scale(0.8,1)" font-family="Liberation Sans" font-size="9" font-weight="bold" text-anchor="middle" fill="#111" stroke="#111" stroke-width="0.2">WHT/GRN</text>
<line x1="1393.9" y1="384.7" x2="1393.9" y2="399.2" stroke="#1c1c1c" stroke-width="1.05"/>
<polyline points="1393.9,399.2 1411.9,399.2 1411.9,413.2" fill="none" stroke="#1c1c1c" stroke-width="1.05" stroke-linejoin="miter"/>
<line x1="257" y1="485" x2="405.9" y2="485" stroke="#1c1c1c" stroke-width="1.05"/>
<text transform="translate(415.05,488.67) scale(0.73,1)" font-family="Liberation Sans" font-size="9.8" font-weight="bold" font-style="normal" text-anchor="middle" fill="#111" stroke="#111" stroke-width="0.22">BLK</text>
<line x1="423.6" y1="485" x2="693.4" y2="485" stroke="#1c1c1c" stroke-width="1.05"/>
<text transform="translate(702.85,488.67) scale(0.73,1)" font-family="Liberation Sans" font-size="9.8" font-weight="bold" font-style="normal" text-anchor="middle" fill="#111" stroke="#111" stroke-width="0.22">BLK</text>
<line x1="711.7" y1="485" x2="1017.8" y2="485" stroke="#1c1c1c" stroke-width="1.05"/>
<text transform="translate(1026.55,488.67) scale(0.73,1)" font-family="Liberation Sans" font-size="9.8" font-weight="bold" font-style="normal" text-anchor="middle" fill="#111" stroke="#111" stroke-width="0.22">BLK</text>
<line x1="1034.7" y1="485" x2="1277.6" y2="485" stroke="#1c1c1c" stroke-width="1.05"/>
<text transform="translate(1286.85,488.67) scale(0.73,1)" font-family="Liberation Sans" font-size="9.8" font-weight="bold" font-style="normal" text-anchor="middle" fill="#111" stroke="#111" stroke-width="0.22">BLK</text>
<line x1="1295.5" y1="485" x2="1411.5" y2="485" stroke="#1c1c1c" stroke-width="1.05"/>
<line x1="1411.5" y1="485" x2="1411.5" y2="448.3" stroke="#1c1c1c" stroke-width="1.05"/>
<line x1="256.6" y1="222.4" x2="256.6" y2="427.2" stroke="#1c1c1c" stroke-width="1.05"/>
<text transform="translate(259.88,437.3) rotate(-90) scale(0.8,1)" font-family="Liberation Sans" font-size="9" font-weight="bold" text-anchor="middle" fill="#111" stroke="#111" stroke-width="0.2">BLK</text>
<line x1="256.6" y1="447.4" x2="256.6" y2="508.5" stroke="#1c1c1c" stroke-width="1.05"/>
<line x1="286" y1="222.4" x2="286" y2="419" stroke="#1c1c1c" stroke-width="1.05"/>
<text transform="translate(289.28,437.3) rotate(-90) scale(0.8,1)" font-family="Liberation Sans" font-size="9" font-weight="bold" text-anchor="middle" fill="#111" stroke="#111" stroke-width="0.2">RED/YEL</text>
<line x1="286" y1="455.6" x2="286" y2="508.5" stroke="#1c1c1c" stroke-width="1.05"/>
<line x1="319.7" y1="222.4" x2="319.7" y2="418.1" stroke="#1c1c1c" stroke-width="1.05"/>
<text transform="translate(322.98,437.45) rotate(-90) scale(0.8,1)" font-family="Liberation Sans" font-size="9" font-weight="bold" text-anchor="middle" fill="#111" stroke="#111" stroke-width="0.2">BLU/RED</text>
<line x1="319.7" y1="456.8" x2="319.7" y2="508.5" stroke="#1c1c1c" stroke-width="1.05"/>
<circle cx="257" cy="485" r="2.8" fill="#1c1c1c"/>
<circle cx="628" cy="485" r="2.8" fill="#1c1c1c"/>
<circle cx="911.1" cy="485" r="2.8" fill="#1c1c1c"/>
<circle cx="1192" cy="485" r="2.8" fill="#1c1c1c"/>
<rect x="1561.6" y="284" width="18.4" height="37.1" fill="none" stroke="#1c1c1c" stroke-width="1.05"/>
<polyline points="1580,292.3 1568.4,292.3 1568.4,312.8 1580,312.8" fill="none" stroke="#1c1c1c" stroke-width="1.05" stroke-linejoin="miter"/>
<polygon points="1563.9,306 1573,306 1568.4,300.2" fill="#1c1c1c" stroke="#1c1c1c" stroke-width="0.6" stroke-linejoin="miter"/>
<line x1="1563.9" y1="300" x2="1573" y2="300" stroke="#1c1c1c" stroke-width="1.1"/>
<line x1="1411.9" y1="413.2" x2="1411.9" y2="423.4" stroke="#1c1c1c" stroke-width="1.05"/>
<line x1="1411.9" y1="438.3" x2="1411.9" y2="448.3" stroke="#1c1c1c" stroke-width="1.05"/>
<circle cx="1411.9" cy="413.2" r="2.9" fill="#1c1c1c"/>
<circle cx="1411.9" cy="448.3" r="2.9" fill="#1c1c1c"/>
<rect x="1397.3" y="423.4" width="32.4" height="14.9" fill="none" stroke="#1c1c1c" stroke-width="1.05"/>
<line x1="1420.5" y1="423.4" x2="1420.5" y2="438.3" stroke="#1c1c1c" stroke-width="1.05"/>
<line x1="1399.2" y1="424.2" x2="1416.4" y2="437.8" stroke="#1c1c1c" stroke-width="1.05"/>
<polyline points="1421.2,424.2 1429.2,430.9 1421.2,437.6" fill="none" stroke="#1c1c1c" stroke-width="1.05" stroke-linejoin="miter"/>
<line x1="1429.7" y1="430.9" x2="1435.6" y2="430.9" stroke="#1c1c1c" stroke-width="1.05"/>
<line x1="1440.1" y1="430.9" x2="1448.3" y2="430.9" stroke="#1c1c1c" stroke-width="1.05"/>
<polygon points="1441,419.2 1455.6,419.2 1448.3,430.9 1441,442.3 1455.6,442.3 1448.3,430.9" fill="none" stroke="#1c1c1c" stroke-width="1.05" stroke-linejoin="miter"/>
<line x1="1448.3" y1="408.8" x2="1448.3" y2="419.2" stroke="#1c1c1c" stroke-width="1.05"/>
<line x1="1448.3" y1="442.3" x2="1448.3" y2="452.9" stroke="#1c1c1c" stroke-width="1.05"/>
<text transform="translate(1405.5,415.9) scale(0.88,1)" font-family="Liberation Sans" font-size="6.2" font-weight="bold" font-style="normal" text-anchor="middle" fill="#111" stroke="#111" stroke-width="0.22">1</text>
<text transform="translate(1405.5,450.3) scale(0.88,1)" font-family="Liberation Sans" font-size="6.2" font-weight="bold" font-style="normal" text-anchor="middle" fill="#111" stroke="#111" stroke-width="0.22">2</text>
<text transform="translate(1466.9,419.6) scale(0.86,1)" font-family="Liberation Sans" font-size="10.6" font-weight="bold" font-style="normal" text-anchor="start" fill="#111" stroke="#111" stroke-width="0.22">Y6</text>
<text transform="translate(1466.9,433.4) scale(0.86,1)" font-family="Liberation Sans" font-size="10.6" font-weight="bold" font-style="normal" text-anchor="start" fill="#111" stroke="#111" stroke-width="0.22">AIR CONDITIONER</text>
<text transform="translate(1466.9,447.2) scale(0.86,1)" font-family="Liberation Sans" font-size="10.6" font-weight="bold" font-style="normal" text-anchor="start" fill="#111" stroke="#111" stroke-width="0.22">TORQUE CONTROL</text>
<text transform="translate(1466.9,461) scale(0.86,1)" font-family="Liberation Sans" font-size="10.6" font-weight="bold" font-style="normal" text-anchor="start" fill="#111" stroke="#111" stroke-width="0.22">SOLENOID</text>
<polyline points="1575,502 207.3,502 207.3,569.2 1575,569.2" fill="none" stroke="#1c1c1c" stroke-width="1.1"/>
<text transform="translate(396.9,522.7) scale(0.86,1)" font-family="Liberation Sans" font-size="10.6" font-weight="bold" font-style="normal" text-anchor="start" fill="#111" stroke="#111" stroke-width="0.22">A7</text>
<text transform="translate(396.9,535.8) scale(0.86,1)" font-family="Liberation Sans" font-size="10.6" font-weight="bold" font-style="normal" text-anchor="start" fill="#111" stroke="#111" stroke-width="0.22">AIR CONDITIONER</text>
<text transform="translate(396.9,548.9) scale(0.86,1)" font-family="Liberation Sans" font-size="10.6" font-weight="bold" font-style="normal" text-anchor="start" fill="#111" stroke="#111" stroke-width="0.22">CONTROLLER (ACF)</text>
<rect x="247.2" y="508.5" width="19.2" height="13.5" fill="none" stroke="#1c1c1c" stroke-width="1.05"/>
<text transform="translate(256.8,519) scale(0.8,1)" font-family="Liberation Sans" font-size="8.8" font-weight="bold" font-style="normal" text-anchor="middle" fill="#111" stroke="#111" stroke-width="0.22">23</text>
<rect x="276.4" y="508.5" width="19.2" height="13.5" fill="none" stroke="#1c1c1c" stroke-width="1.05"/>
<text transform="translate(286,519) scale(0.8,1)" font-family="Liberation Sans" font-size="8.8" font-weight="bold" font-style="normal" text-anchor="middle" fill="#111" stroke="#111" stroke-width="0.22">26</text>
<rect x="310" y="508.5" width="19.2" height="13.5" fill="none" stroke="#1c1c1c" stroke-width="1.05"/>
<text transform="translate(319.6,519) scale(0.8,1)" font-family="Liberation Sans" font-size="8.8" font-weight="bold" font-style="normal" text-anchor="middle" fill="#111" stroke="#111" stroke-width="0.22">21</text>
<rect x="597.1" y="508.5" width="19.2" height="13.5" fill="none" stroke="#1c1c1c" stroke-width="1.05"/>
<text transform="translate(606.7,519) scale(0.8,1)" font-family="Liberation Sans" font-size="8.8" font-weight="bold" font-style="normal" text-anchor="middle" fill="#111" stroke="#111" stroke-width="0.22">39</text>
<rect x="880.1" y="508.5" width="19.2" height="13.5" fill="none" stroke="#1c1c1c" stroke-width="1.05"/>
<text transform="translate(889.7,519) scale(0.8,1)" font-family="Liberation Sans" font-size="8.8" font-weight="bold" font-style="normal" text-anchor="middle" fill="#111" stroke="#111" stroke-width="0.22">38</text>
<rect x="1161" y="508.5" width="19.2" height="13.5" fill="none" stroke="#1c1c1c" stroke-width="1.05"/>
<text transform="translate(1170.6,519) scale(0.8,1)" font-family="Liberation Sans" font-size="8.8" font-weight="bold" font-style="normal" text-anchor="middle" fill="#111" stroke="#111" stroke-width="0.22">37</text>
<rect x="1363.1" y="508.5" width="19.2" height="13.5" fill="none" stroke="#1c1c1c" stroke-width="1.05"/>
<text transform="translate(1372.7,519) scale(0.8,1)" font-family="Liberation Sans" font-size="8.8" font-weight="bold" font-style="normal" text-anchor="middle" fill="#111" stroke="#111" stroke-width="0.22">36</text>
<rect x="260.8" y="531.6" width="19.2" height="13.5" fill="none" stroke="#1c1c1c" stroke-width="1.05"/>
<text transform="translate(270.4,542.1) scale(0.8,1)" font-family="Liberation Sans" font-size="8.8" font-weight="bold" font-style="normal" text-anchor="middle" fill="#111" stroke="#111" stroke-width="0.22">19</text>
<rect x="295.4" y="531.6" width="19.2" height="13.5" fill="none" stroke="#1c1c1c" stroke-width="1.05"/>
<text transform="translate(305,542.1) scale(0.8,1)" font-family="Liberation Sans" font-size="8.8" font-weight="bold" font-style="normal" text-anchor="middle" fill="#111" stroke="#111" stroke-width="0.22">9</text>
<rect x="909.3" y="531.6" width="19.2" height="13.5" fill="none" stroke="#1c1c1c" stroke-width="1.05"/>
<text transform="translate(918.9,542.1) scale(0.8,1)" font-family="Liberation Sans" font-size="8.8" font-weight="bold" font-style="normal" text-anchor="middle" fill="#111" stroke="#111" stroke-width="0.22">11</text>
<rect x="243.3" y="550.8" width="19.2" height="13.5" fill="none" stroke="#1c1c1c" stroke-width="1.05"/>
<text transform="translate(252.9,561.3) scale(0.8,1)" font-family="Liberation Sans" font-size="8.8" font-weight="bold" font-style="normal" text-anchor="middle" fill="#111" stroke="#111" stroke-width="0.22">22</text>
<rect x="278.2" y="550.8" width="19.2" height="13.5" fill="none" stroke="#1c1c1c" stroke-width="1.05"/>
<text transform="translate(287.8,561.3) scale(0.8,1)" font-family="Liberation Sans" font-size="8.8" font-weight="bold" font-style="normal" text-anchor="middle" fill="#111" stroke="#111" stroke-width="0.22">25</text>
<rect x="330.4" y="550.8" width="19.2" height="13.5" fill="none" stroke="#1c1c1c" stroke-width="1.05"/>
<text transform="translate(340,561.3) scale(0.8,1)" font-family="Liberation Sans" font-size="8.8" font-weight="bold" font-style="normal" text-anchor="middle" fill="#111" stroke="#111" stroke-width="0.22">10</text>
<rect x="509.8" y="550.8" width="19.2" height="13.5" fill="none" stroke="#1c1c1c" stroke-width="1.05"/>
<text transform="translate(519.4,561.3) scale(0.8,1)" font-family="Liberation Sans" font-size="8.8" font-weight="bold" font-style="normal" text-anchor="middle" fill="#111" stroke="#111" stroke-width="0.22">18</text>
<rect x="544.2" y="550.8" width="19.2" height="13.5" fill="none" stroke="#1c1c1c" stroke-width="1.05"/>
<text transform="translate(553.8,561.3) scale(0.8,1)" font-family="Liberation Sans" font-size="8.8" font-weight="bold" font-style="normal" text-anchor="middle" fill="#111" stroke="#111" stroke-width="0.22">7</text>
<rect x="579" y="550.8" width="19.2" height="13.5" fill="none" stroke="#1c1c1c" stroke-width="1.05"/>
<text transform="translate(588.6,561.3) scale(0.8,1)" font-family="Liberation Sans" font-size="8.8" font-weight="bold" font-style="normal" text-anchor="middle" fill="#111" stroke="#111" stroke-width="0.22">8</text>
<rect x="891.4" y="550.8" width="19.2" height="13.5" fill="none" stroke="#1c1c1c" stroke-width="1.05"/>
<text transform="translate(901,561.3) scale(0.8,1)" font-family="Liberation Sans" font-size="8.8" font-weight="bold" font-style="normal" text-anchor="middle" fill="#111" stroke="#111" stroke-width="0.22">27</text>
<rect x="943.4" y="550.8" width="19.2" height="13.5" fill="none" stroke="#1c1c1c" stroke-width="1.05"/>
<text transform="translate(953,561.3) scale(0.8,1)" font-family="Liberation Sans" font-size="8.8" font-weight="bold" font-style="normal" text-anchor="middle" fill="#111" stroke="#111" stroke-width="0.22">12</text>
<rect x="1204.2" y="550.8" width="19.2" height="13.5" fill="none" stroke="#1c1c1c" stroke-width="1.05"/>
<text transform="translate(1213.8,561.3) scale(0.8,1)" font-family="Liberation Sans" font-size="8.8" font-weight="bold" font-style="normal" text-anchor="middle" fill="#111" stroke="#111" stroke-width="0.22">23</text>
<rect x="1383.6" y="550.8" width="19.2" height="13.5" fill="none" stroke="#1c1c1c" stroke-width="1.05"/>
<text transform="translate(1393.2,561.3) scale(0.8,1)" font-family="Liberation Sans" font-size="8.8" font-weight="bold" font-style="normal" text-anchor="middle" fill="#111" stroke="#111" stroke-width="0.22">33</text>
<rect x="1567.8" y="550.8" width="22.2" height="13.5" fill="none" stroke="#1c1c1c" stroke-width="1.05"/>
<line x1="252.9" y1="564.3" x2="252.9" y2="591.7" stroke="#1c1c1c" stroke-width="1.05"/>
<text transform="translate(256.18,602.25) rotate(-90) scale(0.8,1)" font-family="Liberation Sans" font-size="9" font-weight="bold" text-anchor="middle" fill="#111" stroke="#111" stroke-width="0.2">ORG</text>
<line x1="252.9" y1="612.8" x2="252.9" y2="663.3" stroke="#1c1c1c" stroke-width="1.05"/>
<line x1="270.5" y1="545.1" x2="270.5" y2="583.9" stroke="#1c1c1c" stroke-width="1.05"/>
<text transform="translate(273.78,602.5) rotate(-90) scale(0.8,1)" font-family="Liberation Sans" font-size="9" font-weight="bold" text-anchor="middle" fill="#111" stroke="#111" stroke-width="0.2">GRN/YEL</text>
<line x1="270.5" y1="621.1" x2="270.5" y2="663.3" stroke="#1c1c1c" stroke-width="1.05"/>
<line x1="270.5" y1="545.1" x2="270.5" y2="569.2" stroke="#1c1c1c" stroke-width="1.05"/>
<line x1="287.8" y1="564.3" x2="287.8" y2="583.4" stroke="#1c1c1c" stroke-width="1.05"/>
<text transform="translate(291.08,602.6) rotate(-90) scale(0.8,1)" font-family="Liberation Sans" font-size="9" font-weight="bold" text-anchor="middle" fill="#111" stroke="#111" stroke-width="0.2">ORG/BLK</text>
<line x1="287.8" y1="621.8" x2="287.8" y2="663.3" stroke="#1c1c1c" stroke-width="1.05"/>
<line x1="305" y1="545.1" x2="305" y2="583.9" stroke="#1c1c1c" stroke-width="1.05"/>
<text transform="translate(308.28,602.25) rotate(-90) scale(0.8,1)" font-family="Liberation Sans" font-size="9" font-weight="bold" text-anchor="middle" fill="#111" stroke="#111" stroke-width="0.2">YEL/RED</text>
<line x1="305" y1="620.6" x2="305" y2="663.3" stroke="#1c1c1c" stroke-width="1.05"/>
<line x1="339.8" y1="564.3" x2="339.8" y2="591.7" stroke="#1c1c1c" stroke-width="1.05"/>
<text transform="translate(343.08,601.95) rotate(-90) scale(0.8,1)" font-family="Liberation Sans" font-size="9" font-weight="bold" text-anchor="middle" fill="#111" stroke="#111" stroke-width="0.2">RED</text>
<line x1="339.8" y1="612.2" x2="339.8" y2="663.3" stroke="#1c1c1c" stroke-width="1.05"/>
<circle cx="287.8" cy="635.1" r="2.8" fill="#1c1c1c"/>
<line x1="287.8" y1="635.1" x2="399.9" y2="635.1" stroke="#1c1c1c" stroke-width="1.05"/>
<text transform="translate(418.15,638.77) scale(0.73,1)" font-family="Liberation Sans" font-size="9.8" font-weight="bold" font-style="normal" text-anchor="middle" fill="#111" stroke="#111" stroke-width="0.22">ORG/BLK</text>
<line x1="435.8" y1="635.1" x2="536.6" y2="635.1" stroke="#1c1c1c" stroke-width="1.05"/>
<line x1="536.6" y1="635.1" x2="536.6" y2="663.3" stroke="#1c1c1c" stroke-width="1.05"/>
<circle cx="252.9" cy="645.6" r="2.8" fill="#1c1c1c"/>
<line x1="252.9" y1="645.6" x2="409.5" y2="645.6" stroke="#1c1c1c" stroke-width="1.05"/>
<text transform="translate(419.4,649.27) scale(0.73,1)" font-family="Liberation Sans" font-size="9.8" font-weight="bold" font-style="normal" text-anchor="middle" fill="#111" stroke="#111" stroke-width="0.22">ORG</text>
<line x1="428.7" y1="645.6" x2="501.4" y2="645.6" stroke="#1c1c1c" stroke-width="1.05"/>
<line x1="501.4" y1="645.6" x2="501.4" y2="663.3" stroke="#1c1c1c" stroke-width="1.05"/>
<path d="M243.3,673.6 L243.3,669.8 Q243.3,663.3 249.8,663.3 L345.2,663.3 Q351.7,663.3 351.7,669.8 L351.7,673.6" fill="none" stroke="#1c1c1c" stroke-width="1.05"/>
<text transform="translate(252.9,671.6) scale(0.8,1)" font-family="Liberation Sans" font-size="8.8" font-weight="bold" font-style="normal" text-anchor="middle" fill="#111" stroke="#111" stroke-width="0.22">6</text>
<text transform="translate(270.7,671.6) scale(0.8,1)" font-family="Liberation Sans" font-size="8.8" font-weight="bold" font-style="normal" text-anchor="middle" fill="#111" stroke="#111" stroke-width="0.22">5</text>
<text transform="translate(287.9,671.6) scale(0.8,1)" font-family="Liberation Sans" font-size="8.8" font-weight="bold" font-style="normal" text-anchor="middle" fill="#111" stroke="#111" stroke-width="0.22">4</text>
<text transform="translate(305,671.6) scale(0.8,1)" font-family="Liberation Sans" font-size="8.8" font-weight="bold" font-style="normal" text-anchor="middle" fill="#111" stroke="#111" stroke-width="0.22">2</text>
<text transform="translate(339.7,671.6) scale(0.8,1)" font-family="Liberation Sans" font-size="8.8" font-weight="bold" font-style="normal" text-anchor="middle" fill="#111" stroke="#111" stroke-width="0.22">1</text>
<rect x="236.8" y="673.6" width="126.8" height="95" fill="none" stroke="#1c1c1c" stroke-width="1.05"/>
<polyline points="252.9,673.6 252.9,744.8 287.8,744.8 287.8,734.9" fill="none" stroke="#1c1c1c" stroke-width="1.05" stroke-linejoin="miter"/>
<polyline points="270.7,673.6 270.7,714.4 285.2,714.4" fill="none" stroke="#1c1c1c" stroke-width="1.05" stroke-linejoin="miter"/>
<line x1="287.8" y1="673.6" x2="287.8" y2="707.3" stroke="#1c1c1c" stroke-width="1.05"/>
<rect x="285.2" y="707.3" width="5.5" height="27.6" fill="none" stroke="#1c1c1c" stroke-width="1.05"/>
<line x1="285.2" y1="714.4" x2="296.9" y2="730.6" stroke="#1c1c1c" stroke-width="1"/>
<polygon points="296.9,730.6 291.23,726.68 294.96,723.98" fill="#1c1c1c" stroke="#1c1c1c" stroke-width="0.4" stroke-linejoin="miter"/>
<polyline points="305.2,673.6 305.2,758.3 339.7,758.3 339.7,741.6" fill="none" stroke="#1c1c1c" stroke-width="1.05" stroke-linejoin="miter"/>
<line x1="339.7" y1="673.6" x2="339.7" y2="700.5" stroke="#1c1c1c" stroke-width="1.05"/>
<circle cx="337.9" cy="721.1" r="20.6" fill="none" stroke="#1c1c1c" stroke-width="1.05"/>
<line x1="323.4" y1="713.4" x2="323.4" y2="730" stroke="#1c1c1c" stroke-width="1"/>
<polyline points="326.3,714.8 340.8,714.8 331,721.4 341,727.4 326.3,727.4" fill="none" stroke="#1c1c1c" stroke-width="1.05" stroke-linejoin="miter"/>
<path d="M348.5,713.7 Q352.9,721.2 348.5,728.7" fill="none" stroke="#1c1c1c" stroke-width="1"/>
<polygon points="352.9,711.5 345,715.2 346.6,708.8" fill="#1c1c1c" stroke="#1c1c1c" stroke-width="0.6" stroke-linejoin="miter"/>
<line x1="343.2" y1="710.6" x2="350.1" y2="706.8" stroke="#1c1c1c" stroke-width="0.9"/>
<polygon points="352.9,730.7 345,727 346.6,733.4" fill="#1c1c1c" stroke="#1c1c1c" stroke-width="0.6" stroke-linejoin="miter"/>
<line x1="343.2" y1="731.6" x2="350.1" y2="735.4" stroke="#1c1c1c" stroke-width="0.9"/>
<text transform="translate(371.7,682.4) scale(0.86,1)" font-family="Liberation Sans" font-size="10.6" font-weight="bold" font-style="normal" text-anchor="start" fill="#111" stroke="#111" stroke-width="0.22">M10</text>
<text transform="translate(371.7,696.35) scale(0.86,1)" font-family="Liberation Sans" font-size="10.6" font-weight="bold" font-style="normal" text-anchor="start" fill="#111" stroke="#111" stroke-width="0.22">HEATER AND</text>
<text transform="translate(371.7,710.3) scale(0.86,1)" font-family="Liberation Sans" font-size="10.6" font-weight="bold" font-style="normal" text-anchor="start" fill="#111" stroke="#111" stroke-width="0.22">AIR CONDITIONER</text>
<text transform="translate(371.7,724.25) scale(0.86,1)" font-family="Liberation Sans" font-size="10.6" font-weight="bold" font-style="normal" text-anchor="start" fill="#111" stroke="#111" stroke-width="0.22">BLOWER</text>
<text transform="translate(371.7,738.2) scale(0.86,1)" font-family="Liberation Sans" font-size="10.6" font-weight="bold" font-style="normal" text-anchor="start" fill="#111" stroke="#111" stroke-width="0.22">PORT CHANGE</text>
<text transform="translate(371.7,752.15) scale(0.86,1)" font-family="Liberation Sans" font-size="10.6" font-weight="bold" font-style="normal" text-anchor="start" fill="#111" stroke="#111" stroke-width="0.22">SERVO MOTOR</text>
<line x1="519.4" y1="564.3" x2="519.4" y2="583.3" stroke="#1c1c1c" stroke-width="1.05"/>
<text transform="translate(522.68,603.05) rotate(-90) scale(0.8,1)" font-family="Liberation Sans" font-size="9" font-weight="bold" text-anchor="middle" fill="#111" stroke="#111" stroke-width="0.2">GRN/WHT</text>
<line x1="519.4" y1="622.8" x2="519.4" y2="663.3" stroke="#1c1c1c" stroke-width="1.05"/>
<line x1="553.8" y1="564.3" x2="553.8" y2="583.3" stroke="#1c1c1c" stroke-width="1.05"/>
<text transform="translate(557.08,603.05) rotate(-90) scale(0.8,1)" font-family="Liberation Sans" font-size="9" font-weight="bold" text-anchor="middle" fill="#111" stroke="#111" stroke-width="0.2">WHT/RED</text>
<line x1="553.8" y1="622.8" x2="553.8" y2="663.3" stroke="#1c1c1c" stroke-width="1.05"/>
<line x1="588.6" y1="564.3" x2="588.6" y2="583.3" stroke="#1c1c1c" stroke-width="1.05"/>
<text transform="translate(591.88,603.05) rotate(-90) scale(0.8,1)" font-family="Liberation Sans" font-size="9" font-weight="bold" text-anchor="middle" fill="#111" stroke="#111" stroke-width="0.2">RED/WHT</text>
<line x1="588.6" y1="622.8" x2="588.6" y2="663.3" stroke="#1c1c1c" stroke-width="1.05"/>
<path d="M492,673.6 L492,669.8 Q492,663.3 498.5,663.3 L593.9,663.3 Q600.4,663.3 600.4,669.8 L600.4,673.6" fill="none" stroke="#1c1c1c" stroke-width="1.05"/>
<text transform="translate(501.6,671.6) scale(0.8,1)" font-family="Liberation Sans" font-size="8.8" font-weight="bold" font-style="normal" text-anchor="middle" fill="#111" stroke="#111" stroke-width="0.22">6</text>
<text transform="translate(519.4,671.6) scale(0.8,1)" font-family="Liberation Sans" font-size="8.8" font-weight="bold" font-style="normal" text-anchor="middle" fill="#111" stroke="#111" stroke-width="0.22">5</text>
<text transform="translate(536.6,671.6) scale(0.8,1)" font-family="Liberation Sans" font-size="8.8" font-weight="bold" font-style="normal" text-anchor="middle" fill="#111" stroke="#111" stroke-width="0.22">4</text>
<text transform="translate(553.7,671.6) scale(0.8,1)" font-family="Liberation Sans" font-size="8.8" font-weight="bold" font-style="normal" text-anchor="middle" fill="#111" stroke="#111" stroke-width="0.22">2</text>
<text transform="translate(588.4,671.6) scale(0.8,1)" font-family="Liberation Sans" font-size="8.8" font-weight="bold" font-style="normal" text-anchor="middle" fill="#111" stroke="#111" stroke-width="0.22">1</text>
<rect x="485.5" y="673.6" width="126.8" height="95" fill="none" stroke="#1c1c1c" stroke-width="1.05"/>
<polyline points="501.6,673.6 501.6,744.8 536.5,744.8 536.5,734.9" fill="none" stroke="#1c1c1c" stroke-width="1.05" stroke-linejoin="miter"/>
<polyline points="519.4,673.6 519.4,714.4 533.9,714.4" fill="none" stroke="#1c1c1c" stroke-width="1.05" stroke-linejoin="miter"/>
<line x1="536.5" y1="673.6" x2="536.5" y2="707.3" stroke="#1c1c1c" stroke-width="1.05"/>
<rect x="533.9" y="707.3" width="5.5" height="27.6" fill="none" stroke="#1c1c1c" stroke-width="1.05"/>
<line x1="533.9" y1="714.4" x2="545.6" y2="730.6" stroke="#1c1c1c" stroke-width="1"/>
<polygon points="545.6,730.6 539.93,726.68 543.66,723.98" fill="#1c1c1c" stroke="#1c1c1c" stroke-width="0.4" stroke-linejoin="miter"/>
<polyline points="553.9,673.6 553.9,758.3 588.4,758.3 588.4,741.6" fill="none" stroke="#1c1c1c" stroke-width="1.05" stroke-linejoin="miter"/>
<line x1="588.4" y1="673.6" x2="588.4" y2="700.5" stroke="#1c1c1c" stroke-width="1.05"/>
<circle cx="586.6" cy="721.1" r="20.6" fill="none" stroke="#1c1c1c" stroke-width="1.05"/>
<line x1="572.1" y1="713.4" x2="572.1" y2="730" stroke="#1c1c1c" stroke-width="1"/>
<polyline points="575,714.8 589.5,714.8 579.7,721.4 589.7,727.4 575,727.4" fill="none" stroke="#1c1c1c" stroke-width="1.05" stroke-linejoin="miter"/>
<path d="M597.2,713.7 Q601.6,721.2 597.2,728.7" fill="none" stroke="#1c1c1c" stroke-width="1"/>
<polygon points="601.6,711.5 593.7,715.2 595.3,708.8" fill="#1c1c1c" stroke="#1c1c1c" stroke-width="0.6" stroke-linejoin="miter"/>
<line x1="591.9" y1="710.6" x2="598.8" y2="706.8" stroke="#1c1c1c" stroke-width="0.9"/>
<polygon points="601.6,730.7 593.7,727 595.3,733.4" fill="#1c1c1c" stroke="#1c1c1c" stroke-width="0.6" stroke-linejoin="miter"/>
<line x1="591.9" y1="731.6" x2="598.8" y2="735.4" stroke="#1c1c1c" stroke-width="0.9"/>
<text transform="translate(620.4,682.4) scale(0.86,1)" font-family="Liberation Sans" font-size="10.6" font-weight="bold" font-style="normal" text-anchor="start" fill="#111" stroke="#111" stroke-width="0.22">M11</text>
<text transform="translate(620.4,696.35) scale(0.86,1)" font-family="Liberation Sans" font-size="10.6" font-weight="bold" font-style="normal" text-anchor="start" fill="#111" stroke="#111" stroke-width="0.22">HEATER AND</text>
<text transform="translate(620.4,710.3) scale(0.86,1)" font-family="Liberation Sans" font-size="10.6" font-weight="bold" font-style="normal" text-anchor="start" fill="#111" stroke="#111" stroke-width="0.22">AIR CONDITIONER</text>
<text transform="translate(620.4,724.25) scale(0.86,1)" font-family="Liberation Sans" font-size="10.6" font-weight="bold" font-style="normal" text-anchor="start" fill="#111" stroke="#111" stroke-width="0.22">MIXER</text>
<text transform="translate(620.4,738.2) scale(0.86,1)" font-family="Liberation Sans" font-size="10.6" font-weight="bold" font-style="normal" text-anchor="start" fill="#111" stroke="#111" stroke-width="0.22">SERVO MOTOR</text>
<line x1="901.2" y1="564.3" x2="901.2" y2="592.1" stroke="#1c1c1c" stroke-width="1.05"/>
<text transform="translate(904.48,602.4) rotate(-90) scale(0.8,1)" font-family="Liberation Sans" font-size="9" font-weight="bold" text-anchor="middle" fill="#111" stroke="#111" stroke-width="0.2">BLU</text>
<line x1="901.2" y1="612.7" x2="901.2" y2="666.4" stroke="#1c1c1c" stroke-width="1.05"/>
<line x1="918.6" y1="545.1" x2="918.6" y2="584.2" stroke="#1c1c1c" stroke-width="1.05"/>
<text transform="translate(921.88,602.8) rotate(-90) scale(0.8,1)" font-family="Liberation Sans" font-size="9" font-weight="bold" text-anchor="middle" fill="#111" stroke="#111" stroke-width="0.2">BLU/RED</text>
<line x1="918.6" y1="621.4" x2="918.6" y2="666.4" stroke="#1c1c1c" stroke-width="1.05"/>
<line x1="953.1" y1="564.3" x2="953.1" y2="584.2" stroke="#1c1c1c" stroke-width="1.05"/>
<text transform="translate(956.38,602.8) rotate(-90) scale(0.8,1)" font-family="Liberation Sans" font-size="9" font-weight="bold" text-anchor="middle" fill="#111" stroke="#111" stroke-width="0.2">RED/BLU</text>
<line x1="953.1" y1="621.4" x2="953.1" y2="666.4" stroke="#1c1c1c" stroke-width="1.05"/>
<path d="M892.1,676.4 L892.1,672.9 Q892.1,666.4 898.6,666.4 L962.1,666.4 Q968.6,666.4 968.6,672.9 L968.6,676.4" fill="none" stroke="#1c1c1c" stroke-width="1.05"/>
<text transform="translate(901.2,674.4) scale(0.8,1)" font-family="Liberation Sans" font-size="8.8" font-weight="bold" font-style="normal" text-anchor="middle" fill="#111" stroke="#111" stroke-width="0.22">1</text>
<text transform="translate(918.6,674.4) scale(0.8,1)" font-family="Liberation Sans" font-size="8.8" font-weight="bold" font-style="normal" text-anchor="middle" fill="#111" stroke="#111" stroke-width="0.22">3</text>
<text transform="translate(953.1,674.4) scale(0.8,1)" font-family="Liberation Sans" font-size="8.8" font-weight="bold" font-style="normal" text-anchor="middle" fill="#111" stroke="#111" stroke-width="0.22">7</text>
<rect x="885.5" y="676.4" width="95.4" height="94.6" fill="none" stroke="#1c1c1c" stroke-width="1.05"/>
<polyline points="901.2,676.4 901.2,716.6 916,716.6" fill="none" stroke="#1c1c1c" stroke-width="1.05" stroke-linejoin="miter"/>
<line x1="918.9" y1="676.4" x2="918.9" y2="710.6" stroke="#1c1c1c" stroke-width="1.05"/>
<rect x="916" y="710.6" width="5.8" height="26.3" fill="none" stroke="#1c1c1c" stroke-width="1.05"/>
<line x1="916" y1="716.6" x2="928.2" y2="733.2" stroke="#1c1c1c" stroke-width="1"/>
<polygon points="928.2,733.2 922.5,729.32 926.2,726.6" fill="#1c1c1c" stroke="#1c1c1c" stroke-width="0.4" stroke-linejoin="miter"/>
<polyline points="918.9,736.9 918.9,760.5 953.1,760.5 953.1,744.2" fill="none" stroke="#1c1c1c" stroke-width="1.05" stroke-linejoin="miter"/>
<line x1="953.1" y1="676.4" x2="953.1" y2="703.2" stroke="#1c1c1c" stroke-width="1.05"/>
<circle cx="953.3" cy="723.7" r="20.5" fill="none" stroke="#1c1c1c" stroke-width="1.05"/>
<line x1="938.8" y1="716" x2="938.8" y2="732.6" stroke="#1c1c1c" stroke-width="1"/>
<polyline points="941.7,717.4 956.2,717.4 946.4,724 956.4,730 941.7,730" fill="none" stroke="#1c1c1c" stroke-width="1.05" stroke-linejoin="miter"/>
<path d="M963.9,716.3 Q968.3,723.8 963.9,731.3" fill="none" stroke="#1c1c1c" stroke-width="1"/>
<polygon points="968.3,714.1 960.4,717.8 962,711.4" fill="#1c1c1c" stroke="#1c1c1c" stroke-width="0.6" stroke-linejoin="miter"/>
<line x1="958.6" y1="713.2" x2="965.5" y2="709.4" stroke="#1c1c1c" stroke-width="0.9"/>
<polygon points="968.3,733.3 960.4,729.6 962,736" fill="#1c1c1c" stroke="#1c1c1c" stroke-width="0.6" stroke-linejoin="miter"/>
<line x1="958.6" y1="734.2" x2="965.5" y2="738" stroke="#1c1c1c" stroke-width="0.9"/>
<text transform="translate(988,685.1) scale(0.86,1)" font-family="Liberation Sans" font-size="10.6" font-weight="bold" font-style="normal" text-anchor="start" fill="#111" stroke="#111" stroke-width="0.22">M9</text>
<text transform="translate(988,699.14) scale(0.86,1)" font-family="Liberation Sans" font-size="10.6" font-weight="bold" font-style="normal" text-anchor="start" fill="#111" stroke="#111" stroke-width="0.22">HEATER AND</text>
<text transform="translate(988,713.18) scale(0.86,1)" font-family="Liberation Sans" font-size="10.6" font-weight="bold" font-style="normal" text-anchor="start" fill="#111" stroke="#111" stroke-width="0.22">AIR CONDITIONER</text>
<text transform="translate(988,727.22) scale(0.86,1)" font-family="Liberation Sans" font-size="10.6" font-weight="bold" font-style="normal" text-anchor="start" fill="#111" stroke="#111" stroke-width="0.22">INTERNAL</text>
<text transform="translate(988,741.26) scale(0.86,1)" font-family="Liberation Sans" font-size="10.6" font-weight="bold" font-style="normal" text-anchor="start" fill="#111" stroke="#111" stroke-width="0.22">AND EXTERNAL</text>
<text transform="translate(988,755.3) scale(0.86,1)" font-family="Liberation Sans" font-size="10.6" font-weight="bold" font-style="normal" text-anchor="start" fill="#111" stroke="#111" stroke-width="0.22">SERVO MOTOR</text>
<line x1="1213.8" y1="564.3" x2="1213.8" y2="591.2" stroke="#1c1c1c" stroke-width="1.05"/>
<text transform="translate(1217.08,602.1) rotate(-90) scale(0.8,1)" font-family="Liberation Sans" font-size="9" font-weight="bold" text-anchor="middle" fill="#111" stroke="#111" stroke-width="0.2">BLK</text>
<line x1="1213.8" y1="613" x2="1213.8" y2="651.2" stroke="#1c1c1c" stroke-width="1.05"/>
<line x1="1204.2" y1="651.2" x2="1223.9" y2="651.2" stroke="#1c1c1c" stroke-width="1"/>
<line x1="1205.6" y1="654.05" x2="1222.2" y2="654.05" stroke="#1c1c1c" stroke-width="1"/>
<line x1="1207.5" y1="656.95" x2="1220.3" y2="656.95" stroke="#1c1c1c" stroke-width="1"/>
<line x1="1209.2" y1="659.85" x2="1218.9" y2="659.85" stroke="#1c1c1c" stroke-width="1"/>
<line x1="1211.7" y1="662.65" x2="1216.1" y2="662.65" stroke="#1c1c1c" stroke-width="1"/>
<text transform="translate(1202.2,678.2) scale(0.88,1)" font-family="Liberation Sans" font-size="10.2" font-weight="bold" font-style="normal" text-anchor="start" fill="#111" stroke="#111" stroke-width="0.22">W103</text>
<line x1="1393.2" y1="564.3" x2="1393.2" y2="586.9" stroke="#1c1c1c" stroke-width="1.05"/>
<text transform="translate(1396.48,607.3) rotate(-90) scale(0.8,1)" font-family="Liberation Sans" font-size="9" font-weight="bold" text-anchor="middle" fill="#111" stroke="#111" stroke-width="0.2">GRN/RED</text>
<line x1="1393.2" y1="627.7" x2="1393.2" y2="653.3" stroke="#1c1c1c" stroke-width="1.05"/>
<circle cx="1393.2" cy="653.3" r="2.8" fill="#1c1c1c"/>
<circle cx="1393.2" cy="700.5" r="2.8" fill="#1c1c1c"/>
<line x1="1393.2" y1="653.3" x2="1393.2" y2="660" stroke="#1c1c1c" stroke-width="1.05"/>
<rect x="1389.8" y="660" width="6.8" height="33.8" fill="none" stroke="#1c1c1c" stroke-width="1.05"/>
<line x1="1393.2" y1="693.8" x2="1393.2" y2="700.5" stroke="#1c1c1c" stroke-width="1.05"/>
<polyline points="1388,683.5 1389.6,682.4 1401.6,667.4" fill="none" stroke="#1c1c1c" stroke-width="1" stroke-linejoin="miter"/>
<polygon points="1406,661.8 1398.2,667.6 1401.4,670.4" fill="#1c1c1c" stroke="#1c1c1c" stroke-width="0.4" stroke-linejoin="miter"/>
<line x1="1360.5" y1="683.5" x2="1362.6" y2="683.5" stroke="#1c1c1c" stroke-width="1.05"/>
<line x1="1366.6" y1="683.5" x2="1375.8" y2="683.5" stroke="#1c1c1c" stroke-width="1.05"/>
<line x1="1378.7" y1="683.5" x2="1388" y2="683.5" stroke="#1c1c1c" stroke-width="1.05"/>
<rect x="1340.6" y="673.2" width="19.9" height="20" fill="none" stroke="#1c1c1c" stroke-width="1.05"/>
<text transform="translate(1350.6,688.7) scale(0.9,1)" font-family="Liberation Sans" font-size="13" font-weight="bold" font-style="normal" text-anchor="middle" fill="#111" stroke="#111" stroke-width="0.22">T</text>
<text transform="translate(1386.2,655.9) scale(0.88,1)" font-family="Liberation Sans" font-size="6" font-weight="bold" font-style="normal" text-anchor="middle" fill="#111" stroke="#111" stroke-width="0.22">2</text>
<text transform="translate(1386.2,703.3) scale(0.88,1)" font-family="Liberation Sans" font-size="6" font-weight="bold" font-style="normal" text-anchor="middle" fill="#111" stroke="#111" stroke-width="0.22">1</text>
<text transform="translate(1413,661.4) scale(0.86,1)" font-family="Liberation Sans" font-size="10.6" font-weight="bold" font-style="normal" text-anchor="start" fill="#111" stroke="#111" stroke-width="0.22">B41</text>
<text transform="translate(1413,675.1) scale(0.86,1)" font-family="Liberation Sans" font-size="10.6" font-weight="bold" font-style="normal" text-anchor="start" fill="#111" stroke="#111" stroke-width="0.22">AIR CONDITIONER</text>
<text transform="translate(1413,688.8) scale(0.86,1)" font-family="Liberation Sans" font-size="10.6" font-weight="bold" font-style="normal" text-anchor="start" fill="#111" stroke="#111" stroke-width="0.22">FREEZE CONTROL</text>
<text transform="translate(1413,702.5) scale(0.86,1)" font-family="Liberation Sans" font-size="10.6" font-weight="bold" font-style="normal" text-anchor="start" fill="#111" stroke="#111" stroke-width="0.22">SWITCH</text>
<polyline points="1393.2,700.5 1393.2,736.4 1487.5,736.4" fill="none" stroke="#1c1c1c" stroke-width="1.05" stroke-linejoin="miter"/>
<text transform="translate(1506.9,740.07) scale(0.73,1)" font-family="Liberation Sans" font-size="9.8" font-weight="bold" font-style="normal" text-anchor="middle" fill="#111" stroke="#111" stroke-width="0.22">GRN/RED</text>
<line x1="1526.3" y1="736.4" x2="1573" y2="736.4" stroke="#1c1c1c" stroke-width="1.05"/>
<polyline points="1575,796.6 93.1,796.6 93.1,813.1 1575,813.1" fill="none" stroke="#1c1c1c" stroke-width="1.2" stroke-linejoin="miter"/>
<line x1="696.6" y1="796.6" x2="696.6" y2="813.1" stroke="#1c1c1c" stroke-width="1.1"/>
<line x1="1300.3" y1="796.6" x2="1300.3" y2="813.1" stroke="#1c1c1c" stroke-width="1.1"/>
<text transform="translate(394.7,809.2) scale(0.88,1)" font-family="Liberation Sans" font-size="10.2" font-weight="bold" font-style="normal" text-anchor="middle" fill="#111" stroke="#111" stroke-width="0.22">SE16</text>
<text transform="translate(997.8,809.2) scale(0.88,1)" font-family="Liberation Sans" font-size="10.2" font-weight="bold" font-style="normal" text-anchor="middle" fill="#111" stroke="#111" stroke-width="0.22">SE17</text>
<text transform="translate(54,828.2) scale(1,1)" font-family="Liberation Sans" font-size="12" font-weight="bold" font-style="normal" text-anchor="start" fill="#111" stroke="#111" stroke-width="0.22">TX1131416</text>
<text transform="translate(348.5,850.2) scale(1,1)" font-family="Liberation Sans" font-size="7.1" font-weight="bold" font-style="normal" text-anchor="start" fill="#111" stroke="#111" stroke-width="0.22">Continued on next page</text>
<text transform="translate(907.2,825) scale(0.9,1)" font-family="Liberation Sans" font-size="10.2" font-weight="bold" font-style="normal" text-anchor="start" fill="#111" stroke="#111" stroke-width="0.22">50G SYSTEM FUNCTIONAL SCHEMATIC</text>
<text transform="translate(867.5,839.6) scale(1,1)" font-family="Liberation Sans" font-size="9.9" font-weight="normal" font-style="italic" text-anchor="start" fill="#222" word-spacing="0.55">System Functional Schematic (SE16—SE18) (6 of 6)</text>
<line x1="34.3" y1="899" x2="694.4" y2="899" stroke="#1c1c1c" stroke-width="1.2"/>
<text transform="translate(34.3,912.6) scale(1,1)" font-family="Liberation Sans" font-size="11.9" font-weight="normal" font-style="normal" text-anchor="start" fill="#222">TM12885 (05JUN19)</text>
<text transform="translate(315.5,914.6) scale(1,1)" font-family="Liberation Sans" font-size="14.2" font-weight="bold" font-style="normal" text-anchor="start" fill="#111" stroke="#111" stroke-width="0.22">9015-10-29</text>
<text transform="translate(694.4,913) scale(1,1)" font-family="Liberation Sans" font-size="12.2" font-weight="normal" font-style="normal" text-anchor="end" fill="#222" word-spacing="1.5">50G Excavator</text>
<text transform="translate(694.4,918.3) scale(1,1)" font-family="Liberation Sans" font-size="3.6" font-weight="bold" font-style="normal" text-anchor="end" fill="#222" stroke="#222" stroke-width="0.22">060519</text>
<text transform="translate(694.4,930.9) scale(1,1)" font-family="Liberation Sans" font-size="9.6" font-weight="normal" font-style="normal" text-anchor="end" fill="#222">PN=185</text>
<rect x="0" y="943.8" width="1573" height="45.2" fill="#efefef"/>
<rect x="0" y="943.8" width="5" height="13" fill="#dadada"/>
<line x1="5.2" y1="943.8" x2="5.2" y2="956.6" stroke="#4a4a4a" stroke-width="1.2"/>
<rect x="5.8" y="943.8" width="17.3" height="12.8" fill="#f5f5f5"/>
<polyline points="16.8,948.4 11.6,951.5 16.8,954.4" fill="none" stroke="#333" stroke-width="1.6"/>
<rect x="23.1" y="944.2" width="632.6" height="12.5" fill="#cdcdcd"/>
<rect x="40" y="986.8" width="1533" height="2.2" fill="#33393c"/>
<rect x="0" y="986.8" width="40" height="2.2" fill="#c8c8c8"/>
<!-- nav -->
<polygon points="478.3,972.3 485.4,965.7 485.4,978.9" fill="#1e1e1e"/>
<polygon points="487.2,966.6 490.2,965.7 490.2,978.9 487.2,978" fill="#1e1e1e"/>
<polygon points="504.9,972.3 512.2,965.7 512.2,978.9" fill="#1e1e1e"/>
<rect x="524.4" y="962.6" width="114.2" height="18.9" fill="#ffffff" stroke="#9a9a9a" stroke-width="1"/>
<text x="529.8" y="976.6" font-family="Liberation Sans" font-size="12.3" fill="#111" letter-spacing="0.45">185 / 614</text>
<polygon points="629,971.2 634.2,971.2 631.6,973.9" fill="#222"/>
<polygon points="648.1,965.9 655.3,972.5 648.1,979.1" fill="#1e1e1e"/>
<polygon points="670.8,965.9 673.9,966.6 673.9,978.4 670.8,979.1" fill="#1e1e1e"/>
<polygon points="676.2,965.9 683,972.5 676.2,979.1" fill="#1e1e1e"/>
<!-- icon 1 -->
<polyline points="695.6,974.1 695.6,965.6 702.6,965.6" fill="none" stroke="#5a6e8a" stroke-width="1.3"/>
<rect x="700.6" y="971.4" width="10" height="8.8" fill="#fff" stroke="#555" stroke-width="1.2"/>
<line x1="704" y1="967.6" x2="709.8" y2="967.6" stroke="#5a9a80" stroke-width="1.2"/>
<polyline points="706,965.4 703.6,967.6 706,969.8" fill="none" stroke="#5a9a80" stroke-width="1.2"/>
<!-- icon 2 disabled -->
<polyline points="721.8,974.4 721.8,965.6 731.8,965.6 731.8,971.3" fill="none" stroke="#c4c4c4" stroke-width="1.1"/>
<rect x="726.4" y="971.4" width="10" height="8.6" fill="#f7f7f7" stroke="#c4c4c4" stroke-width="1.1"/>
<line x1="721.5" y1="977.2" x2="726" y2="977.2" stroke="#b9c9c0" stroke-width="1.1"/>
<!-- view icons -->
<rect x="1287.6" y="966.4" width="9.8" height="12.8" fill="#fff" stroke="#555" stroke-width="1.1"/>
<line x1="1289.6" y1="969.3" x2="1295.4" y2="969.3" stroke="#777" stroke-width="0.9"/>
<line x1="1289.6" y1="972.4" x2="1295.4" y2="972.4" stroke="#777" stroke-width="0.9"/>
<line x1="1289.6" y1="975.4" x2="1295.4" y2="975.4" stroke="#777" stroke-width="0.9"/>
<rect x="1312.6" y="965.4" width="9.8" height="8.9" fill="#fff" stroke="#555" stroke-width="1.1"/>
<line x1="1314.6" y1="968.3" x2="1320.4" y2="968.3" stroke="#777" stroke-width="0.9"/>
<line x1="1314.6" y1="971.3" x2="1320.4" y2="971.3" stroke="#777" stroke-width="0.9"/>
<polyline points="1312.6,982 1312.6,976.4 1322.4,976.4 1322.4,982" fill="#fff" stroke="#555" stroke-width="1.1"/>
<rect x="1332.8" y="964" width="24.1" height="17.4" fill="#c8d6ee"/>
<rect x="1337.4" y="966.4" width="6.2" height="12.8" fill="#fff" stroke="#555" stroke-width="1.1"/>
<rect x="1345.5" y="966.4" width="6.2" height="12.8" fill="#fff" stroke="#555" stroke-width="1.1"/>
<line x1="1339" y1="969.3" x2="1342" y2="969.3" stroke="#777" stroke-width="0.9"/>
<line x1="1339" y1="972.4" x2="1342" y2="972.4" stroke="#777" stroke-width="0.9"/>
<line x1="1339" y1="975.4" x2="1342" y2="975.4" stroke="#777" stroke-width="0.9"/>
<line x1="1347.1" y1="969.3" x2="1350.1" y2="969.3" stroke="#777" stroke-width="0.9"/>
<line x1="1347.1" y1="972.4" x2="1350.1" y2="972.4" stroke="#777" stroke-width="0.9"/>
<line x1="1347.1" y1="975.4" x2="1350.1" y2="975.4" stroke="#777" stroke-width="0.9"/>
<polyline points="1362.5,965.4 1369,965.4 1369,974.2 1362.5,974.2" fill="none" stroke="#555" stroke-width="1.1"/>
<polyline points="1377.9,965.4 1371.6,965.4 1371.6,974.2 1377.9,974.2" fill="none" stroke="#555" stroke-width="1.1"/>
<polyline points="1362.5,976.4 1369,976.4 1369,981.4" fill="none" stroke="#555" stroke-width="1.1"/>
<polyline points="1377.9,976.4 1371.6,976.4 1371.6,981.4" fill="none" stroke="#555" stroke-width="1.1"/>
<line x1="1363" y1="968.3" x2="1367.5" y2="968.3" stroke="#777" stroke-width="0.9"/>
<line x1="1363" y1="971.3" x2="1367.5" y2="971.3" stroke="#777" stroke-width="0.9"/>
<line x1="1373" y1="968.3" x2="1377.5" y2="968.3" stroke="#777" stroke-width="0.9"/>
<line x1="1373" y1="971.3" x2="1377.5" y2="971.3" stroke="#777" stroke-width="0.9"/>
<line x1="1363" y1="979" x2="1367.5" y2="979" stroke="#777" stroke-width="0.9"/>
<line x1="1373" y1="979" x2="1377.5" y2="979" stroke="#777" stroke-width="0.9"/>
<text x="1400.2" y="976.5" font-family="Liberation Sans" font-size="12.2" fill="#444" letter-spacing="0.3">89.68%</text>
<polygon points="1462.1,969.9 1467.4,969.9 1464.75,973.1" fill="#222"/>
<circle cx="1479.2" cy="971.3" r="7" fill="none" stroke="#333" stroke-width="1.2"/>
<line x1="1475.4" y1="971.1" x2="1483" y2="971.1" stroke="#333" stroke-width="1.2"/>
<line x1="1494" y1="972.4" x2="1573" y2="972.4" stroke="#333" stroke-width="1.3"/>
<rect x="1532.1" y="968.1" width="3.8" height="7.8" fill="#333"/>
<line x1="1539.4" y1="968.5" x2="1539.4" y2="976" stroke="#333" stroke-width="1"/>

</svg>
</body></html>
